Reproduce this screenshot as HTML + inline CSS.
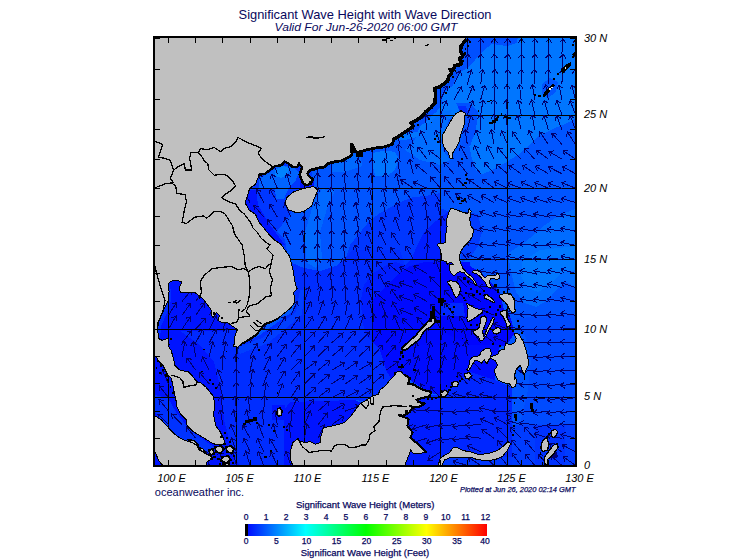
<!DOCTYPE html>
<html><head><meta charset="utf-8"><title>Significant Wave Height with Wave Direction</title>
<style>
html,body{margin:0;padding:0;background:#fff;}
body{width:755px;height:560px;position:relative;overflow:hidden;font-family:"Liberation Sans",sans-serif;}
#t div{font-family:"Liberation Sans",sans-serif;}
</style></head><body>
<svg width="755" height="560" viewBox="0 0 755 560" style="position:absolute;left:0;top:0">
<defs><clipPath id="mc"><rect x="154" y="37" width="422" height="429"/></clipPath>
<linearGradient id="cb" x1="0" x2="1" y1="0" y2="0"><stop offset="0.00%" stop-color="hsl(240,100%,50%)"/><stop offset="4.17%" stop-color="hsl(230,100%,50%)"/><stop offset="8.33%" stop-color="hsl(220,100%,50%)"/><stop offset="12.50%" stop-color="hsl(210,100%,50%)"/><stop offset="16.67%" stop-color="hsl(200,100%,50%)"/><stop offset="20.83%" stop-color="hsl(190,100%,50%)"/><stop offset="25.00%" stop-color="hsl(180,100%,50%)"/><stop offset="29.17%" stop-color="hsl(170,100%,50%)"/><stop offset="33.33%" stop-color="hsl(160,100%,50%)"/><stop offset="37.50%" stop-color="hsl(150,100%,50%)"/><stop offset="41.67%" stop-color="hsl(140,100%,50%)"/><stop offset="45.83%" stop-color="hsl(130,100%,50%)"/><stop offset="50.00%" stop-color="hsl(120,100%,50%)"/><stop offset="54.17%" stop-color="hsl(110,100%,50%)"/><stop offset="58.33%" stop-color="hsl(100,100%,50%)"/><stop offset="62.50%" stop-color="hsl(90,100%,50%)"/><stop offset="66.67%" stop-color="hsl(80,100%,50%)"/><stop offset="70.83%" stop-color="hsl(70,100%,50%)"/><stop offset="75.00%" stop-color="hsl(60,100%,50%)"/><stop offset="79.17%" stop-color="hsl(50,100%,50%)"/><stop offset="83.33%" stop-color="hsl(40,100%,50%)"/><stop offset="87.50%" stop-color="hsl(30,100%,50%)"/><stop offset="91.67%" stop-color="hsl(20,100%,50%)"/><stop offset="95.83%" stop-color="hsl(10,100%,50%)"/><stop offset="100.00%" stop-color="hsl(0,100%,50%)"/></linearGradient></defs>
<rect width="755" height="560" fill="#fff"/>
<g clip-path="url(#mc)" shape-rendering="crispEdges">
<rect x="153" y="36" width="424" height="431" fill="#0055ff"/>
<polygon points="380.0,36.0 577.0,36.0 577.0,118.0 564.3,124.3 551.4,129.6 538.6,136.0 530.0,144.6 519.3,154.3 514.2,157.1 497.1,167.8 482.1,174.3 475.7,170.0 471.4,157.1 468.2,140.0 470.0,125.0 462.0,112.0 450.0,118.0 442.0,128.0 436.0,138.0 425.0,135.0 405.0,140.0 380.0,140.0" fill="#0076ff"/>
<polygon points="405.0,150.0 425.0,128.0 440.0,112.0 452.0,110.0 446.0,128.0 441.0,140.0 443.0,150.0 450.0,160.0 440.0,165.0 420.0,160.0" fill="#006eff"/>
<polygon points="507.8,253.5 527.0,240.6 544.2,225.7 559.2,215.0 577.0,208.5 577.0,288.0 566.0,282.0 556.0,290.0 548.0,300.0 536.0,307.0 524.0,303.0 516.0,292.0 511.0,272.0" fill="#006cff"/>
<polygon points="522.0,262.0 540.0,250.0 577.0,246.0 577.0,270.0 562.0,272.0 550.0,285.0 538.0,292.0 528.0,288.0 521.0,276.0" fill="#0078ff"/>
<polygon points="516.0,318.0 577.0,315.0 577.0,425.0 520.0,425.0 528.0,390.0 531.0,360.0 525.0,335.0 518.0,330.0" fill="#004bff"/>
<polygon points="508.0,425.0 577.0,425.0 577.0,467.0 508.0,467.0" fill="#003cff"/>
<polygon points="373.5,152.8 384.2,150.7 394.9,151.8 399.2,159.3 394.9,170.0 386.4,176.4 375.7,176.4 372.4,165.7" fill="#0076ff"/>
<polygon points="331.8,161.4 360.7,152.0 362.0,166.0 345.0,172.0 331.0,172.0" fill="#0069ff"/>
<polygon points="322.1,189.3 335.0,190.3 326.4,210.7 320.0,232.0 322.1,260.0 316.0,268.0 306.0,262.0 305.0,232.0 311.4,210.7 316.0,198.0" fill="#0069ff"/>
<polygon points="440.0,193.0 427.0,195.7 410.0,197.8 397.0,204.2 380.0,212.8 369.2,221.4 358.5,234.2 350.0,245.0 346.0,258.0 336.0,266.0 320.0,271.0 304.0,268.0 290.0,262.0 280.0,240.0 262.0,222.0 250.0,210.0 244.0,200.0 252.0,186.0 262.0,186.0 262.0,215.0 285.0,240.0 295.0,300.0 300.0,330.0 449.5,330.0 449.5,212.0 440.0,208.0" fill="#0037ff"/>
<polygon points="449.5,210.7 435.6,221.4 422.8,234.2 416.3,247.0 412.0,258.0 405.0,265.0 395.0,262.0 385.0,266.0 372.0,274.0 364.0,285.0 361.0,300.0 362.0,320.0 366.0,335.0 375.0,345.0 449.5,345.0" fill="#001eff"/>
<polygon points="290.0,262.0 304.0,268.0 320.0,271.0 336.0,266.0 346.0,258.0 352.0,250.0 400.0,250.0 405.0,265.0 395.0,262.0 385.0,266.0 372.0,274.0 364.0,285.0 361.0,300.0 362.0,320.0 366.0,335.0 372.0,342.0 372.0,402.0 355.0,400.0 290.0,402.0 284.0,410.0 284.0,467.0 225.0,467.0 225.0,330.0 236.0,330.0 236.0,347.0 260.0,335.0 295.0,310.0 297.0,285.0" fill="#002dff"/>
<polygon points="449.0,262.0 440.0,262.0 425.0,262.0 410.0,266.0 398.0,274.0 388.0,284.0 373.0,300.0 372.0,320.0 373.0,345.0 373.0,360.0 378.0,380.0 384.0,390.0 400.0,372.0 470.0,372.0 470.0,262.0" fill="#000aff"/>
<polygon points="244.0,160.0 312.0,160.0 312.0,190.0 300.0,196.0 290.0,215.0 270.0,240.0 240.0,215.0" fill="#0037ff"/>
<polygon points="259.1,177.8 269.8,172.4 277.8,166.0 292.6,166.0 299.0,172.4 295.0,181.8 288.5,188.5 284.0,199.0 276.0,199.0 275.0,188.5 259.1,187.8" fill="#0064ff"/>
<polygon points="275.0,170.0 283.0,166.0 289.0,168.0 288.0,175.0 281.0,178.0 275.0,176.0" fill="#0082ff"/>
<polygon points="243.0,190.0 256.0,190.0 258.0,205.0 270.0,225.0 285.0,245.0 270.0,245.0 244.0,215.0" fill="#0014ff"/>
<polygon points="300.0,180.0 314.0,180.0 314.0,189.0 300.0,189.0" fill="#0014ff"/>
<polygon points="153.0,275.0 240.0,275.0 240.0,330.0 225.0,330.0 225.0,352.0 212.0,352.0 200.0,345.0 185.0,330.0 170.0,330.0 153.0,330.0" fill="#0014ff"/>
<polygon points="153.0,330.0 185.0,330.0 200.0,345.0 214.0,362.0 221.0,390.0 224.0,420.0 232.0,450.0 240.0,467.0 200.0,467.0 153.0,400.0" fill="#0014ff"/>
<polygon points="180.0,331.0 236.0,331.0 236.0,467.0 232.0,450.0 224.0,420.0 221.0,390.0 214.0,362.0 200.0,345.0" fill="#002aff"/>
<polygon points="153.0,278.0 170.0,278.0 171.0,300.0 167.0,313.0 161.0,326.0 160.0,340.0 153.0,340.0" fill="#002dff"/>
<polygon points="236.0,348.0 262.0,338.0 296.0,312.0 300.0,290.0 304.0,290.0 302.0,315.0 268.0,343.0 240.0,354.0" fill="#003eff"/>
<polygon points="153.0,355.0 175.0,355.0 180.0,415.0 220.0,445.0 235.0,467.0 153.0,467.0" fill="#0014ff"/>
<polygon points="155.0,395.0 168.0,398.0 176.0,412.0 190.0,430.0 215.0,448.0 205.0,455.0 180.0,440.0 160.0,420.0 155.0,412.0" fill="#0032ff"/>
<polygon points="284.0,410.0 290.0,402.0 355.0,400.0 362.0,403.0 372.0,396.0 372.0,467.0 284.0,467.0" fill="#0014ff"/>
<polygon points="272.0,405.0 285.0,405.0 285.0,420.0 272.0,420.0" fill="#0014ff"/>
<polygon points="372.0,342.0 380.0,350.0 386.0,370.0 392.0,380.0 384.0,392.0 372.0,398.0" fill="#002dff"/>
<polygon points="440.0,262.0 470.0,266.0 480.0,272.0 492.0,283.0 500.0,293.0 504.0,310.0 509.0,313.0 512.0,322.0 514.0,334.0 506.0,346.0 470.0,346.0 440.0,330.0" fill="#0005ff"/>
<polygon points="441.0,303.0 463.0,303.0 465.0,316.0 441.0,316.0" fill="#0028ff"/>
<polygon points="400.0,345.0 500.0,345.0 495.0,380.0 470.0,372.0 440.0,395.0 430.0,393.0 410.0,380.0 400.0,372.0" fill="#000cff"/>
<polygon points="405.0,397.0 440.0,395.0 470.0,372.0 500.0,382.0 512.0,388.0 512.0,467.0 405.0,467.0" fill="#0026ff"/>
<polygon points="405.0,397.0 440.0,397.0 440.0,467.0 405.0,467.0" fill="#001cff"/>
<polygon points="440.0,457.0 512.0,457.0 512.0,467.0 440.0,467.0" fill="#0037ff"/>
<polygon points="535.0,425.0 565.0,425.0 565.0,467.0 535.0,467.0" fill="#0032ff"/>
<polygon points="542.0,84.0 550.0,78.0 558.0,82.0 556.0,92.0 548.0,98.0 542.0,94.0" fill="#0055ff"/>
<polygon points="456.0,103.0 470.0,103.0 478.0,112.0 476.0,130.0 470.0,146.0 462.0,146.0 464.0,125.0 460.0,112.0" fill="#0050ff"/>
<polygon points="458.0,106.0 466.0,106.0 468.0,113.0 460.0,113.0" fill="#002dff"/>
<polygon points="466.0,212.0 478.0,214.0 482.0,232.0 478.0,246.0 470.0,258.0 462.0,262.0 460.0,250.0 470.0,238.0 472.0,228.0" fill="#003cff"/>
<polygon points="417.4,131.7 418.0,131.1 418.5,130.4 418.9,129.8 419.2,129.0 419.5,128.3 419.7,127.5 419.8,126.7 419.8,126.0 424.4,123.2 425.0,122.9 425.6,122.4 426.1,121.9 426.6,121.4 430.3,116.7 434.9,113.1 435.5,112.6 436.1,112.0 439.8,107.7 440.2,107.1 440.6,106.5 441.0,105.9 441.2,105.2 441.4,104.5 441.6,103.8 441.7,103.1 442.3,94.5 442.3,93.5 442.2,93.1 442.4,93.1 443.2,92.8 444.0,92.4 444.8,91.9 445.4,91.4 449.3,87.9 449.5,87.8 450.2,87.5 450.9,87.1 451.5,86.6 452.1,86.1 452.7,85.5 453.1,84.8 453.6,84.2 453.9,83.4 454.2,82.7 454.4,81.9 454.8,79.6 456.0,78.5 456.5,77.9 456.9,77.3 457.3,76.6 457.7,75.9 457.9,75.1 458.1,74.4 458.1,74.3 458.6,73.9 459.0,73.2 459.4,72.6 459.7,71.9 459.8,71.5 460.9,71.3 461.7,71.1 462.5,70.9 463.2,70.6 463.9,70.2 464.5,69.8 465.1,69.3 465.7,68.7 466.2,68.1 466.6,67.4 467.0,66.7 467.3,66.0 467.5,65.2 467.6,64.5 467.7,63.7 467.7,62.9 467.6,62.1 467.4,61.3 467.3,60.9 467.4,60.8 467.9,60.2 468.4,59.5 468.8,58.9 469.1,58.1 469.3,57.4 469.5,56.6 469.6,55.9 469.6,55.1 469.5,54.3 469.4,53.6 469.2,52.8 468.9,52.1 468.6,51.4 468.2,50.7 467.5,49.7 467.5,48.6 471.5,44.0 472.0,43.4 472.4,42.7 472.7,42.0 473.0,41.2 473.2,40.4 473.4,39.6 473.4,38.8 473.4,36.0 395.0,36.0 395.0,132.0 417.1,132.0 417.4,131.7" fill="#0050ff"/>
<polygon points="462,36 518,36 517,43 507,46 492,44 483,51 475,60 470,66 462,70" fill="#0050ff"/>
<line x1="168.5" y1="36" x2="168.5" y2="467" stroke="#000" stroke-width="1"/>
<line x1="236.5" y1="36" x2="236.5" y2="467" stroke="#000" stroke-width="1"/>
<line x1="304.5" y1="36" x2="304.5" y2="467" stroke="#000" stroke-width="1"/>
<line x1="372.5" y1="36" x2="372.5" y2="467" stroke="#000" stroke-width="1"/>
<line x1="440.5" y1="36" x2="440.5" y2="467" stroke="#000" stroke-width="1"/>
<line x1="507.5" y1="36" x2="507.5" y2="467" stroke="#000" stroke-width="1"/>
<line x1="575.5" y1="36" x2="575.5" y2="467" stroke="#000" stroke-width="1"/>
<line x1="153" y1="465.5" x2="577" y2="465.5" stroke="#000" stroke-width="1"/>
<line x1="153" y1="397.5" x2="577" y2="397.5" stroke="#000" stroke-width="1"/>
<line x1="153" y1="329.5" x2="577" y2="329.5" stroke="#000" stroke-width="1"/>
<line x1="153" y1="259.5" x2="577" y2="259.5" stroke="#000" stroke-width="1"/>
<line x1="153" y1="188.5" x2="577" y2="188.5" stroke="#000" stroke-width="1"/>
<line x1="153" y1="115.5" x2="577" y2="115.5" stroke="#000" stroke-width="1"/>
<line x1="153" y1="37.5" x2="577" y2="37.5" stroke="#000" stroke-width="1"/>
</g>
<g clip-path="url(#mc)" stroke="#00006e" stroke-width="1" fill="none" shape-rendering="crispEdges">
<path d="M168.5,424.7L157.9,414.1M162.9,414.7L157.9,414.1L158.5,419.0M168.5,411.1L159.0,399.6M163.8,400.6L159.0,399.6L159.1,404.6M168.5,397.5L159.2,385.8M164.0,386.9L159.2,385.8L159.2,390.8M168.5,383.9L162.4,370.2M166.8,372.5L162.4,370.2L161.2,375.0M168.5,329.0L176.1,316.1M176.8,321.0L176.1,316.1L171.5,317.9M168.5,315.2L176.5,302.5M177.0,307.5L176.5,302.5L171.8,304.2M182.1,424.7L171.7,413.9M176.6,414.6L171.7,413.9L172.2,418.9M182.1,356.5L184.7,341.7M187.0,346.1L184.7,341.7L181.0,345.1M182.1,342.8L191.3,330.9M191.3,335.9L191.3,330.9L186.5,332.2M182.1,329.0L190.6,316.7M190.9,321.7L190.6,316.7L185.9,318.2M182.1,315.2L190.8,303.0M191.0,308.0L190.8,303.0L186.0,304.4M182.1,301.3L191.7,289.8M191.5,294.8L191.7,289.8L186.8,290.9M195.7,438.3L186.4,426.6M191.3,427.7L186.4,426.6L186.4,431.6M195.7,370.2L187.0,358.0M191.8,359.4L187.0,358.0L186.8,363.0M195.7,356.5L193.0,341.7M196.7,345.1L193.0,341.7L190.7,346.2M195.7,342.8L202.8,329.5M203.6,334.5L202.8,329.5L198.2,331.6M195.7,329.0L205.9,318.0M205.5,322.9L205.9,318.0L200.9,318.8M195.7,315.2L204.4,303.0M204.6,308.0L204.4,303.0L199.6,304.4M195.7,301.3L204.3,289.1M204.6,294.1L204.3,289.1L199.5,290.5M209.3,465.5L205.2,451.1M209.3,454.0L205.2,451.1L203.3,455.7M209.3,383.9L199.5,372.5M204.4,373.5L199.5,372.5L199.7,377.5M209.3,370.2L202.4,356.9M206.9,359.0L202.4,356.9L201.5,361.8M209.3,356.5L212.7,341.9M214.8,346.4L212.7,341.9L208.8,345.0M209.3,342.8L216.2,329.5M217.1,334.4L216.2,329.5L211.7,331.5M209.3,329.0L216.4,315.8M217.3,320.7L216.4,315.8L211.9,317.8M209.3,315.2L216.3,301.9M217.2,306.9L216.3,301.9L211.8,304.0M222.9,465.5L219.5,450.9M223.4,454.0L219.5,450.9L217.4,455.4M222.9,424.7L220.2,410.0M224.0,413.3L220.2,410.0L217.9,414.4M222.9,411.1L220.7,396.3M224.3,399.7L220.7,396.3L218.2,400.6M222.9,397.5L219.4,382.9M223.3,386.0L219.4,382.9L217.4,387.5M222.9,383.9L217.6,369.9M221.8,372.4L217.6,369.9L216.1,374.6M222.9,370.2L222.9,355.2M226.0,359.2L222.9,355.2L219.9,359.1M222.9,356.5L225.9,341.8M228.2,346.3L225.9,341.8L222.1,345.1M222.9,342.8L227.3,328.4M229.1,333.1L227.3,328.4L223.2,331.3M222.9,329.0L228.4,315.0M229.8,319.8L228.4,315.0L224.1,317.6M236.5,465.5L232.8,451.0M236.7,454.0L232.8,451.0L230.8,455.6M236.5,451.9L231.4,437.8M235.6,440.5L231.4,437.8L229.8,442.6M236.5,438.3L230.7,424.5M235.1,426.9L230.7,424.5L229.4,429.3M236.5,424.7L233.5,410.0M237.3,413.3L233.5,410.0L231.3,414.5M236.5,411.1L235.1,396.2M238.5,399.8L235.1,396.2L232.4,400.4M236.5,397.5L236.4,382.5M239.5,386.4L236.4,382.5L233.3,386.5M236.5,383.9L236.2,368.9M239.3,372.7L236.2,368.9L233.2,372.9M236.5,370.2L235.6,355.2M238.9,359.0L235.6,355.2L232.8,359.3M236.5,356.5L239.3,341.8M241.6,346.2L239.3,341.8L235.5,345.1M250.1,465.5L245.7,451.1M249.8,454.0L245.7,451.1L243.9,455.8M250.1,451.9L243.9,438.3M248.3,440.6L243.9,438.3L242.7,443.1M250.1,438.3L242.8,425.3M247.4,427.2L242.8,425.3L242.0,430.2M250.1,424.7L246.6,410.2M250.5,413.3L246.6,410.2L244.5,414.7M250.1,411.1L247.8,396.3M251.4,399.7L247.8,396.3L245.3,400.7M250.1,397.5L251.4,382.6M254.1,386.8L251.4,382.6L248.0,386.2M250.1,383.9L252.8,369.1M255.1,373.5L252.8,369.1L249.0,372.4M250.1,370.2L253.7,355.6M255.7,360.2L253.7,355.6L249.7,358.7M250.1,356.5L257.3,343.3M258.1,348.3L257.3,343.3L252.7,345.3M250.1,342.8L256.2,329.1M257.4,333.9L256.2,329.1L251.8,331.4M250.1,202.6L242.9,189.5M247.5,191.4L242.9,189.5L242.1,194.4M263.7,465.5L258.3,451.5M262.6,454.1L258.3,451.5L256.8,456.3M263.7,451.9L257.5,438.2M262.0,440.6L257.5,438.2L256.3,443.1M263.7,438.3L258.7,424.2M262.9,426.9L258.7,424.2L257.1,428.9M263.7,424.7L262.0,409.8M265.5,413.4L262.0,409.8L259.4,414.1M263.7,411.1L264.8,396.2M267.6,400.3L264.8,396.2L261.4,399.9M263.7,397.5L266.2,382.7M268.6,387.1L266.2,382.7L262.5,386.1M263.7,383.9L268.8,369.8M270.4,374.5L268.8,369.8L264.6,372.4M263.7,370.2L270.1,356.6M271.2,361.5L270.1,356.6L265.6,358.9M263.7,356.5L271.2,343.5M271.9,348.5L271.2,343.5L266.5,345.4M263.7,342.8L271.3,329.8M271.9,334.8L271.3,329.8L266.6,331.7M263.7,329.0L270.7,315.7M271.6,320.6L270.7,315.7L266.1,317.8M263.7,216.9L253.9,205.5M258.8,206.5L253.9,205.5L254.2,210.5M263.7,202.6L256.8,189.3M261.4,191.4L256.8,189.3L255.9,194.2M263.7,188.2L258.4,174.2M262.7,176.8L258.4,174.2L256.9,178.9M277.3,465.5L270.9,451.9M275.4,454.2L270.9,451.9L269.8,456.8M277.3,451.9L269.9,438.9M274.5,440.8L269.9,438.9L269.2,443.8M277.3,438.3L273.3,423.9M277.3,426.9L273.3,423.9L271.4,428.5M277.3,424.7L274.9,409.9M278.6,413.3L274.9,409.9L272.5,414.3M277.3,397.5L282.6,383.5M284.1,388.2L282.6,383.5L278.3,386.1M277.3,383.9L285.0,371.0M285.6,375.9L285.0,371.0L280.3,372.8M277.3,370.2L284.9,357.3M285.6,362.3L284.9,357.3L280.3,359.1M277.3,356.5L286.3,344.5M286.4,349.5L286.3,344.5L281.5,345.8M277.3,342.8L285.9,330.5M286.2,335.5L285.9,330.5L281.1,332.0M277.3,329.0L285.4,316.4M285.9,321.4L285.4,316.4L280.7,318.0M277.3,231.2L267.5,219.8M272.4,220.8L267.5,219.8L267.7,224.8M277.3,216.9L269.6,204.1M274.3,205.9L269.6,204.1L269.0,209.0M277.3,202.6L270.2,189.4M274.8,191.4L270.2,189.4L269.4,194.3M277.3,188.2L271.5,174.4M275.9,176.8L271.5,174.4L270.2,179.2M277.3,173.7L271.9,159.7M276.2,162.3L271.9,159.7L270.5,164.5M290.9,465.5L286.0,451.3M290.2,454.0L286.0,451.3L284.4,456.1M290.9,438.3L288.8,423.5M292.4,426.9L288.8,423.5L286.3,427.8M290.9,424.7L291.4,409.8M294.4,413.8L291.4,409.8L288.2,413.6M290.9,411.1L297.4,397.6M298.4,402.5L297.4,397.6L292.9,399.8M290.9,397.5L299.4,385.2M299.7,390.1L299.4,385.2L294.6,386.7M290.9,383.9L299.6,371.7M299.8,376.7L299.6,371.7L294.8,373.1M290.9,370.2L301.3,359.4M300.8,364.3L301.3,359.4L296.3,360.1M290.9,356.5L300.4,344.9M300.3,349.9L300.4,344.9L295.5,346.0M290.9,342.8L300.8,331.5M300.5,336.5L300.8,331.5L295.9,332.4M290.9,329.0L299.6,316.8M299.8,321.8L299.6,316.8L294.8,318.2M290.9,315.2L297.3,301.6M298.4,306.5L297.3,301.6L292.8,303.9M290.9,245.3L284.2,231.9M288.7,234.1L284.2,231.9L283.2,236.8M290.9,231.2L284.8,217.5M289.2,219.8L284.8,217.5L283.6,222.3M290.9,216.9L284.8,203.2M289.2,205.6L284.8,203.2L283.6,208.1M290.9,188.2L286.7,173.8M290.8,176.7L286.7,173.8L284.9,178.5M290.9,173.7L286.5,159.4M290.6,162.2L286.5,159.4L284.7,164.1M304.5,438.3L306.8,423.5M309.3,427.9L306.8,423.5L303.2,426.9M304.5,424.7L310.4,410.9M311.7,415.8L310.4,410.9L306.0,413.4M304.5,411.1L314.0,399.5M313.9,404.5L314.0,399.5L309.1,400.6M304.5,397.5L315.8,387.6M314.8,392.5L315.8,387.6L310.8,387.9M304.5,383.9L315.1,373.2M314.5,378.2L315.1,373.2L310.1,373.9M304.5,370.2L316.6,361.3M315.2,366.1L316.6,361.3L311.6,361.1M304.5,356.5L314.9,345.7M314.4,350.7L314.9,345.7L310.0,346.4M304.5,342.8L315.0,332.0M314.4,337.0L315.0,332.0L310.0,332.7M304.5,329.0L312.8,316.5M313.2,321.5L312.8,316.5L308.1,318.1M304.5,315.2L310.8,301.6M312.0,306.5L310.8,301.6L306.4,303.9M304.5,301.3L309.3,287.1M310.9,291.8L309.3,287.1L305.1,289.9M304.5,287.4L305.1,272.4M308.0,276.5L305.1,272.4L301.8,276.3M304.5,273.5L304.5,258.5M307.6,262.4L304.5,258.5L301.4,262.4M304.5,259.4L303.3,244.5M306.7,248.2L303.3,244.5L300.6,248.6M304.5,245.3L302.4,230.5M306.0,234.0L302.4,230.5L299.9,234.8M304.5,231.2L303.8,216.2M307.1,220.0L303.8,216.2L300.9,220.3M304.5,216.9L302.4,202.1M306.0,205.6L302.4,202.1L299.9,206.4M318.1,438.3L324.6,424.8M325.6,429.7L324.6,424.8L320.1,427.0M318.1,424.7L327.3,412.9M327.3,417.9L327.3,412.9L322.5,414.1M318.1,411.1L329.2,401.1M328.4,406.0L329.2,401.1L324.2,401.4M318.1,397.5L329.9,388.3M328.7,393.2L329.9,388.3L324.9,388.3M318.1,383.9L329.5,374.1M328.5,379.0L329.5,374.1L324.5,374.4M318.1,370.2L329.8,360.8M328.6,365.7L329.8,360.8L324.8,360.9M318.1,356.5L328.8,346.0M328.1,350.9L328.8,346.0L323.8,346.5M318.1,342.8L328.2,331.7M327.8,336.7L328.2,331.7L323.3,332.5M318.1,329.0L325.8,316.1M326.4,321.1L325.8,316.1L321.1,317.9M318.1,315.2L323.2,301.1M324.7,305.8L323.2,301.1L319.0,303.7M318.1,301.3L320.8,286.6M323.1,291.0L320.8,286.6L317.1,289.9M318.1,287.4L317.8,272.4M321.0,276.3L317.8,272.4L314.8,276.4M318.1,273.5L317.6,258.5M320.8,262.3L317.6,258.5L314.6,262.5M318.1,259.4L317.1,244.5M320.4,248.2L317.1,244.5L314.3,248.6M318.1,245.3L317.1,230.4M320.4,234.1L317.1,230.4L314.3,234.5M318.1,231.2L316.8,216.2M320.2,219.9L316.8,216.2L314.0,220.4M318.1,216.9L316.1,202.1M319.7,205.6L316.1,202.1L313.6,206.4M318.1,202.6L316.5,187.7M320.0,191.3L316.5,187.7L313.8,192.0M318.1,188.2L317.1,173.2M320.4,177.0L317.1,173.2L314.3,177.4M318.1,173.7L316.5,158.8M320.0,162.4L316.5,158.8L313.9,163.0M331.7,424.7L343.9,416.1M342.5,420.8L343.9,416.1L338.9,415.8M331.7,411.1L345.0,404.1M342.9,408.7L345.0,404.1L340.0,403.3M331.7,397.5L345.2,391.0M343.0,395.5L345.2,391.0L340.3,390.0M331.7,383.9L344.3,375.7M342.7,380.5L344.3,375.7L339.3,375.3M331.7,370.2L344.6,362.5M342.8,367.2L344.6,362.5L339.6,361.9M331.7,356.5L343.1,346.8M342.1,351.7L343.1,346.8L338.1,347.0M331.7,342.8L343.1,333.0M342.1,337.9L343.1,333.0L338.1,333.2M331.7,329.0L339.0,315.9M339.8,320.9L339.0,315.9L334.4,317.9M331.7,315.2L335.6,300.7M337.5,305.3L335.6,300.7L331.6,303.7M331.7,301.3L333.0,286.4M335.7,290.6L333.0,286.4L329.6,290.1M331.7,287.4L330.4,272.5M333.8,276.1L330.4,272.5L327.7,276.7M331.7,273.5L330.4,258.5M333.8,262.2L330.4,258.5L327.6,262.7M331.7,259.4L330.7,244.5M334.1,248.2L330.7,244.5L327.9,248.6M331.7,245.3L331.6,230.3M334.7,234.3L331.6,230.3L328.6,234.3M331.7,231.2L330.6,216.2M334.0,219.9L330.6,216.2L327.8,220.4M331.7,216.9L329.6,202.1M333.2,205.6L329.6,202.1L327.1,206.4M331.7,202.6L330.7,187.6M334.1,191.4L330.7,187.6L327.9,191.8M331.7,188.2L331.6,173.2M334.7,177.1L331.6,173.2L328.6,177.2M331.7,173.7L331.0,158.7M334.2,162.5L331.0,158.7L328.1,162.8M345.3,411.1L359.3,405.9M356.7,410.1L359.3,405.9L354.6,404.4M345.3,397.5L358.6,390.6M356.5,395.2L358.6,390.6L353.7,389.7M345.3,383.9L357.6,375.3M356.1,380.1L357.6,375.3L352.6,375.0M345.3,370.2L357.6,361.6M356.1,366.4L357.6,361.6L352.6,361.3M345.3,356.5L356.2,346.2M355.4,351.1L356.2,346.2L351.2,346.7M345.3,342.8L355.2,331.5M354.9,336.5L355.2,331.5L350.3,332.4M345.3,329.0L351.2,315.2M352.5,320.1L351.2,315.2L346.9,317.6M345.3,315.2L347.7,300.4M350.1,304.8L347.7,300.4L344.0,303.8M345.3,301.3L345.2,286.3M348.3,290.3L345.2,286.3L342.1,290.3M345.3,287.4L343.4,272.5M347.0,276.1L343.4,272.5L340.9,276.8M345.3,273.5L342.9,258.7M346.5,262.0L342.9,258.7L340.5,263.0M345.3,259.4L343.1,244.6M346.7,248.0L343.1,244.6L340.6,249.0M345.3,245.3L343.8,230.4M347.3,234.0L343.8,230.4L341.1,234.6M345.3,231.2L343.2,216.3M346.8,219.8L343.2,216.3L340.7,220.6M345.3,216.9L342.7,202.2M346.4,205.5L342.7,202.2L340.3,206.6M345.3,202.6L343.5,187.7M347.0,191.3L343.5,187.7L340.9,192.0M345.3,188.2L344.4,173.2M347.7,177.0L344.4,173.2L341.6,177.4M345.3,173.7L343.9,158.8M347.3,162.4L343.9,158.8L341.2,163.0M358.9,397.5L371.4,389.2M369.8,394.0L371.4,389.2L366.4,388.9M358.9,383.9L371.2,375.2M369.7,380.0L371.2,375.2L366.2,375.0M358.9,370.2L371.8,362.6M370.0,367.2L371.8,362.6L366.8,361.9M358.9,356.5L369.9,346.3M369.1,351.2L369.9,346.3L364.9,346.7M358.9,342.8L369.3,332.0M368.8,337.0L369.3,332.0L364.4,332.7M358.9,329.0L363.7,314.8M365.4,319.5L363.7,314.8L359.5,317.5M358.9,315.2L360.1,300.2M362.8,304.4L360.1,300.2L356.7,303.9M358.9,301.3L357.1,286.4M360.6,290.0L357.1,286.4L354.5,290.7M358.9,287.4L356.2,272.7M359.9,276.0L356.2,272.7L353.9,277.1M358.9,273.5L355.1,258.9M359.1,262.0L355.1,258.9L353.1,263.5M358.9,259.4L355.1,244.9M359.1,248.0L355.1,244.9L353.1,249.5M358.9,245.3L357.3,230.4M360.8,234.0L357.3,230.4L354.7,234.7M358.9,231.2L356.1,216.4M359.9,219.7L356.1,216.4L353.8,220.9M358.9,216.9L355.5,202.3M359.4,205.5L355.5,202.3L353.4,206.9M358.9,202.6L356.0,187.9M359.8,191.2L356.0,187.9L353.8,192.4M358.9,188.2L357.0,173.3M360.5,176.8L357.0,173.3L354.4,177.6M358.9,173.7L357.6,158.8M361.0,162.4L357.6,158.8L354.9,163.0M358.9,159.1L357.3,144.2M360.7,147.8L357.3,144.2L354.6,148.5M372.5,383.9L384.0,374.2M383.0,379.1L384.0,374.2L379.0,374.4M372.5,370.2L384.4,361.0M383.1,365.9L384.4,361.0L379.4,361.0M372.5,356.5L382.5,345.3M382.1,350.3L382.5,345.3L377.5,346.2M372.5,342.8L380.7,330.2M381.1,335.2L380.7,330.2L376.0,331.8M372.5,329.0L373.6,314.0M376.4,318.2L373.6,314.0L370.3,317.7M372.5,315.2L369.3,300.5M373.2,303.7L369.3,300.5L367.1,305.0M372.5,301.3L367.4,287.2M371.6,289.9L367.4,287.2L365.9,292.0M372.5,287.4L367.9,273.2M372.0,276.0L367.9,273.2L366.2,277.8M372.5,273.5L365.9,260.0M370.4,262.2L365.9,260.0L364.8,264.9M372.5,259.4L366.3,245.8M370.7,248.1L366.3,245.8L365.1,250.6M372.5,245.3L366.8,231.4M371.2,233.9L366.8,231.4L365.5,236.3M372.5,231.2L367.9,216.9M372.1,219.7L367.9,216.9L366.2,221.6M372.5,216.9L368.5,202.5M372.5,205.5L368.5,202.5L366.6,207.1M372.5,202.6L369.5,187.9M373.3,191.2L369.5,187.9L367.3,192.4M372.5,188.2L371.0,173.3M374.5,176.9L371.0,173.3L368.3,177.5M372.5,173.7L371.9,158.7M375.1,162.5L371.9,158.7L369.0,162.8M372.5,159.1L371.5,144.1M374.9,147.9L371.5,144.1L368.7,148.3M386.1,370.2L398.3,361.5M396.9,366.3L398.3,361.5L393.3,361.3M386.1,356.5L396.0,345.3M395.7,350.2L396.0,345.3L391.1,346.2M386.1,342.8L395.5,331.1M395.4,336.1L395.5,331.1L390.6,332.2M386.1,329.0L384.6,314.1M388.0,317.7L384.6,314.1L381.9,318.3M386.1,315.2L380.4,301.3M384.8,303.8L380.4,301.3L379.1,306.1M386.1,301.3L374.5,291.8M379.5,292.0L374.5,291.8L375.6,296.7M386.1,287.4L379.0,274.2M383.6,276.2L379.0,274.2L378.1,279.2M386.1,273.5L376.6,261.8M381.5,262.9L376.6,261.8L376.7,266.8M386.1,259.4L378.1,246.7M382.8,248.4L378.1,246.7L377.6,251.7M386.1,245.3L379.7,231.8M384.2,234.0L379.7,231.8L378.6,236.6M386.1,231.2L381.0,217.1M385.3,219.7L381.0,217.1L379.5,221.8M386.1,216.9L382.9,202.3M386.7,205.5L382.9,202.3L380.7,206.8M386.1,202.6L383.1,187.9M386.9,191.2L383.1,187.9L380.9,192.4M386.1,188.2L385.3,173.2M388.6,177.0L385.3,173.2L382.4,177.3M386.1,173.7L384.6,158.8M388.1,162.4L384.6,158.8L381.9,163.0M386.1,159.1L385.9,144.1M389.0,148.0L385.9,144.1L382.9,148.1M399.7,370.2L410.5,359.8M409.8,364.7L410.5,359.8L405.5,360.3M399.7,356.5L407.5,343.7M408.1,348.6L407.5,343.7L402.8,345.5M399.7,342.8L404.6,328.6M406.2,333.3L404.6,328.6L400.4,331.3M399.7,329.0L394.0,315.2M398.3,317.6L394.0,315.2L392.6,320.0M399.7,315.2L392.6,302.0M397.2,304.0L392.6,302.0L391.7,306.9M399.7,301.3L391.1,289.0M395.9,290.5L391.1,289.0L390.9,294.0M399.7,287.4L385.5,282.7M390.2,281.0L385.5,282.7L388.2,286.8M399.7,273.5L388.2,263.8M393.2,264.0L388.2,263.8L389.3,268.7M399.7,259.4L390.5,247.6M395.4,248.8L390.5,247.6L390.5,252.6M399.7,245.3L391.5,232.8M396.2,234.4L391.5,232.8L391.1,237.8M399.7,231.2L395.0,216.9M399.2,219.7L395.0,216.9L393.3,221.6M399.7,216.9L396.3,202.3M400.2,205.5L396.3,202.3L394.2,206.9M399.7,202.6L394.3,188.6M398.6,191.2L394.3,188.6L392.8,193.4M399.7,188.2L396.5,173.5M400.4,176.7L396.5,173.5L394.4,178.0M399.7,173.7L397.6,158.9M401.2,162.3L397.6,158.9L395.1,163.2M399.7,159.1L398.4,144.2M401.8,147.8L398.4,144.2L395.7,148.4M399.7,144.4L397.0,129.7M400.8,133.0L397.0,129.7L394.7,134.1M413.3,465.5L406.4,478.8M405.5,473.9L406.4,478.8L410.9,476.7M413.3,438.3L401.1,447.1M402.5,442.3L401.1,447.1L406.1,447.3M413.3,424.7L399.1,429.5M401.8,425.3L399.1,429.5L403.8,431.1M413.3,411.1L399.8,404.5M404.7,403.5L399.8,404.5L402.0,409.0M413.3,383.9L418.3,369.7M419.9,374.5L418.3,369.7L414.1,372.4M413.3,370.2L418.5,356.1M420.0,360.9L418.5,356.1L414.3,358.8M413.3,356.5L416.1,341.8M418.4,346.2L416.1,341.8L412.3,345.1M413.3,329.0L402.3,318.8M407.3,319.2L402.3,318.8L403.1,323.7M413.3,315.2L399.5,309.4M404.3,308.1L399.5,309.4L401.9,313.7M413.3,301.3L399.2,296.1M404.0,294.6L399.2,296.1L401.9,300.4M413.3,287.4L399.1,282.5M403.9,280.9L399.1,282.5L401.8,286.7M413.3,273.5L399.8,267.0M404.7,265.9L399.8,267.0L402.0,271.5M413.3,259.4L406.0,246.3M410.6,248.3L406.0,246.3L405.2,251.3M413.3,245.3L410.5,230.6M414.3,233.9L410.5,230.6L408.2,235.0M413.3,231.2L409.8,216.6M413.7,219.7L409.8,216.6L407.7,221.1M413.3,216.9L408.8,202.6M412.9,205.5L408.8,202.6L407.0,207.3M413.3,202.6L404.6,190.4M409.4,191.8L404.6,190.4L404.4,195.4M413.3,188.2L400.8,179.9M405.8,179.5L400.8,179.9L402.4,184.6M413.3,173.7L409.4,159.2M413.4,162.2L409.4,159.2L407.4,163.8M413.3,159.1L409.8,144.5M413.7,147.6L409.8,144.5L407.7,149.1M413.3,144.4L408.8,130.1M412.9,132.9L408.8,130.1L407.0,134.8M413.3,129.6L409.9,115.0M413.8,118.1L409.9,115.0L407.8,119.5M426.9,465.5L419.3,478.5M418.7,473.5L419.3,478.5L424.0,476.6M426.9,438.3L412.5,442.6M415.4,438.5L412.5,442.6L417.2,444.4M426.9,424.7L412.5,429.0M415.4,424.9L412.5,429.0L417.2,430.8M426.9,411.1L412.0,409.6M416.2,406.9L412.0,409.6L415.6,413.1M426.9,397.5L420.7,383.8M425.2,386.2L420.7,383.8L419.6,388.7M426.9,383.9L427.9,368.9M430.7,373.0L427.9,368.9L424.6,372.6M426.9,370.2L430.2,355.6M432.3,360.1L430.2,355.6L426.3,358.7M426.9,356.5L430.6,342.0M432.6,346.6L430.6,342.0L426.7,345.0M426.9,342.8L426.1,327.8M429.4,331.6L426.1,327.8L423.2,331.9M426.9,329.0L417.0,317.7M421.9,318.7L417.0,317.7L417.3,322.7M426.9,315.2L414.2,307.2M419.2,306.7L414.2,307.2L415.9,311.9M426.9,301.3L413.7,294.3M418.6,293.4L413.7,294.3L415.7,298.9M426.9,287.4L413.5,280.7M418.4,279.7L413.5,280.7L415.6,285.2M426.9,273.5L413.8,266.1M418.8,265.3L413.8,266.1L415.8,270.7M426.9,259.4L427.2,244.4M430.2,248.4L427.2,244.4L424.1,248.3M426.9,245.3L427.8,230.4M430.6,234.5L427.8,230.4L424.5,234.1M426.9,231.2L427.9,216.2M430.7,220.4L427.9,216.2L424.6,219.9M426.9,216.9L424.9,202.1M428.5,205.6L424.9,202.1L422.4,206.4M426.9,202.6L420.6,189.0M425.1,191.3L420.6,189.0L419.5,193.8M426.9,188.2L413.2,182.0M418.1,180.8L413.2,182.0L415.6,186.4M426.9,173.7L415.3,164.2M420.3,164.3L415.3,164.2L416.4,169.1M426.9,159.1L418.0,147.1M422.8,148.4L418.0,147.1L417.8,152.1M426.9,144.4L420.7,130.8M425.1,133.1L420.7,130.8L419.5,135.6M426.9,129.6L425.0,114.7M428.6,118.3L425.0,114.7L422.5,119.0M426.9,114.7L428.8,99.8M431.4,104.1L428.8,99.8L425.2,103.3M440.5,451.9L427.9,460.1M429.6,455.4L427.9,460.1L432.9,460.5M440.5,438.3L426.3,443.1M429.0,438.9L426.3,443.1L431.0,444.8M440.5,424.7L425.8,427.8M429.0,424.0L425.8,427.8L430.3,430.0M440.5,411.1L425.6,409.8M429.8,407.1L425.6,409.8L429.2,413.2M440.5,397.5L430.1,386.7M435.1,387.4L430.1,386.7L430.6,391.7M440.5,383.9L439.8,368.9M443.0,372.7L439.8,368.9L436.9,373.0M440.5,370.2L444.6,355.8M446.5,360.4L444.6,355.8L440.5,358.7M440.5,356.5L445.6,342.4M447.1,347.1L445.6,342.4L441.3,345.1M440.5,342.8L443.5,328.1M445.7,332.5L443.5,328.1L439.7,331.3M440.5,329.0L434.1,315.4M438.6,317.7L434.1,315.4L433.0,320.3M440.5,315.2L430.2,304.3M435.1,305.1L430.2,304.3L430.6,309.3M440.5,301.3L429.2,291.4M434.2,291.7L429.2,291.4L430.2,296.3M440.5,287.4L429.8,276.9M434.8,277.5L429.8,276.9L430.5,281.8M440.5,273.5L435.4,259.4M439.6,262.0L435.4,259.4L433.8,264.1M440.5,259.4L442.4,244.5M444.9,248.8L442.4,244.5L438.8,248.1M440.5,231.2L442.0,216.3M444.7,220.5L442.0,216.3L438.5,219.9M440.5,216.9L436.9,202.4M440.9,205.5L436.9,202.4L434.9,206.9M440.5,202.6L432.2,190.1M437.0,191.7L432.2,190.1L431.8,195.1M440.5,188.2L430.7,176.9M435.6,177.8L430.7,176.9L430.9,181.9M440.5,173.7L430.7,162.4M435.6,163.3L430.7,162.4L430.9,167.3M440.5,159.1L428.6,150.0M433.6,150.0L428.6,150.0L429.8,154.9M440.5,144.4L435.6,130.2M439.8,133.0L435.6,130.2L434.0,135.0M440.5,129.6L444.0,115.0M446.1,119.6L444.0,115.0L440.1,118.1M440.5,114.7L446.3,100.9M447.6,105.7L446.3,100.9L441.9,103.3M440.5,99.6L447.1,86.1M448.1,91.0L447.1,86.1L442.6,88.3M453.9,465.5L439.0,467.5M442.5,463.9L439.0,467.5L443.4,470.0M453.9,438.3L439.0,440.4M442.5,436.8L439.0,440.4L443.4,442.9M453.9,424.7L439.0,426.4M442.6,422.9L439.0,426.4L443.3,429.0M453.9,411.1L438.9,411.3M442.8,408.1L438.9,411.3L442.9,414.3M453.9,397.5L440.5,390.7M445.4,389.8L440.5,390.7L442.6,395.3M453.9,370.2L456.1,355.4M458.6,359.7L456.1,355.4L452.5,358.8M453.9,356.5L457.7,342.0M459.7,346.6L457.7,342.0L453.8,345.0M453.9,342.8L455.0,327.8M457.8,332.0L455.0,327.8L451.7,331.5M453.9,329.0L448.4,315.1M452.7,317.6L448.4,315.1L447.0,319.9M453.9,315.2L445.0,303.2M449.8,304.5L445.0,303.2L444.8,308.1M453.9,301.3L444.1,290.0M449.0,290.9L444.1,290.0L444.4,295.0M453.9,202.6L444.8,190.7M449.7,191.9L444.8,190.7L444.8,195.7M453.9,188.2L444.2,176.7M449.1,177.8L444.2,176.7L444.4,181.7M453.9,173.7L443.9,162.5M448.9,163.4L443.9,162.5L444.2,167.5M453.9,159.1L444.4,147.5M449.3,148.6L444.4,147.5L444.5,152.5M453.9,99.6L461.5,86.7M462.2,91.7L461.5,86.7L456.9,88.6M453.9,84.5L460.6,71.0M461.6,75.9L460.6,71.0L456.1,73.2M453.9,69.2L458.5,54.9M460.2,59.6L458.5,54.9L454.3,57.7M467.3,465.5L453.0,461.1M457.6,459.3L453.0,461.1L455.8,465.2M467.3,438.3L452.4,439.6M456.0,436.2L452.4,439.6L456.5,442.3M467.3,424.7L452.4,426.8M455.9,423.2L452.4,426.8L456.8,429.3M467.3,411.1L452.3,412.3M456.0,408.9L452.3,412.3L456.5,415.0M467.3,397.5L452.9,393.4M457.5,391.5L452.9,393.4L455.8,397.4M467.3,383.9L457.5,372.5M462.4,373.5L457.5,372.5L457.8,377.5M467.3,356.5L465.4,341.6M468.9,345.1L465.4,341.6L462.8,345.9M467.3,342.8L463.4,328.3M467.4,331.3L463.4,328.3L461.4,332.9M467.3,329.0L460.0,315.9M464.6,317.8L460.0,315.9L459.2,320.8M467.3,301.3L457.1,290.4M462.0,291.2L457.1,290.4L457.5,295.4M467.3,287.4L457.1,276.4M462.1,277.2L457.1,276.4L457.5,281.4M467.3,259.4L457.7,247.9M462.6,249.0L457.7,247.9L457.9,252.9M467.3,245.3L456.9,234.5M461.9,235.2L456.9,234.5L457.4,239.5M467.3,202.6L455.6,193.2M460.6,193.3L455.6,193.2L456.8,198.1M467.3,188.2L456.2,178.1M461.2,178.5L456.2,178.1L457.1,183.0M467.3,173.7L458.0,161.9M462.9,163.1L458.0,161.9L458.1,166.9M467.3,159.1L460.5,145.7M465.0,147.9L460.5,145.7L459.6,150.6M467.3,144.4L465.1,129.6M468.7,133.0L465.1,129.6L462.6,133.9M467.3,129.6L471.1,115.1M473.1,119.7L471.1,115.1L467.1,118.1M467.3,114.7L472.9,100.8M474.3,105.6L472.9,100.8L468.6,103.3M467.3,99.6L473.0,85.7M474.3,90.6L473.0,85.7L468.6,88.2M467.3,84.5L471.3,70.0M473.2,74.6L471.3,70.0L467.3,73.0M467.3,69.2L468.2,54.2M471.0,58.3L468.2,54.2L464.9,57.9M467.3,53.7L467.5,38.7M470.6,42.7L467.5,38.7L464.4,42.6M467.3,38.1L467.4,23.1M470.4,27.1L467.4,23.1L464.3,27.0M480.7,465.5L468.2,457.2M473.2,456.8L468.2,457.2L469.8,461.9M480.7,451.9L467.1,445.5M472.0,444.4L467.1,445.5L469.4,450.0M480.7,438.3L465.8,436.3M470.2,433.8L465.8,436.3L469.3,439.8M480.7,424.7L465.7,425.3M469.5,422.1L465.7,425.3L469.8,428.2M480.7,411.1L465.7,410.4M469.8,407.5L465.7,410.4L469.5,413.7M480.7,397.5L466.3,393.4M470.9,391.5L466.3,393.4L469.2,397.5M480.7,383.9L468.1,375.8M473.0,375.3L468.1,375.8L469.7,380.5M480.7,370.2L470.7,359.0M475.7,359.9L470.7,359.0L471.1,364.0M480.7,342.8L472.0,330.5M476.8,332.0L472.0,330.5L471.8,335.5M480.7,315.2L469.2,305.6M474.2,305.8L469.2,305.6L470.2,310.5M480.7,301.3L467.9,293.6M472.8,293.0L467.9,293.6L469.6,298.2M480.7,287.4L467.4,280.5M472.3,279.6L467.4,280.5L469.5,285.1M480.7,259.4L466.6,254.2M471.4,252.7L466.6,254.2L469.3,258.5M480.7,245.3L466.0,242.1M470.6,240.0L466.0,242.1L469.2,246.0M480.7,231.2L466.5,226.3M471.2,224.7L466.5,226.3L469.2,230.5M480.7,216.9L466.3,212.9M470.9,211.0L466.3,212.9L469.2,216.9M480.7,202.6L467.6,195.3M472.5,194.5L467.6,195.3L469.5,199.9M480.7,188.2L468.5,179.5M473.5,179.3L468.5,179.5L469.9,184.3M480.7,173.7L471.2,162.1M476.1,163.2L471.2,162.1L471.3,167.1M480.7,159.1L474.3,145.5M478.8,147.8L474.3,145.5L473.2,150.4M480.7,144.4L476.2,130.1M480.3,132.9L476.2,130.1L474.4,134.8M480.7,129.6L480.5,114.6M483.6,118.5L480.5,114.6L477.5,118.6M480.7,114.7L483.1,99.9M485.5,104.2L483.1,99.9L479.4,103.3M480.7,99.6L484.8,85.2M486.7,89.9L484.8,85.2L480.8,88.2M480.7,84.5L482.4,69.6M485.0,73.8L482.4,69.6L478.9,73.1M480.7,69.2L480.8,54.2M483.8,58.1L480.8,54.2L477.7,58.1M480.7,53.7L480.8,38.7M483.9,42.7L480.8,38.7L477.7,42.6M480.7,38.1L480.7,23.1M483.8,27.0L480.7,23.1L477.7,27.0M494.1,465.5L483.4,455.0M488.4,455.6L483.4,455.0L484.0,460.0M494.1,438.3L481.9,429.6M486.9,429.4L481.9,429.6L483.3,434.4M494.1,424.7L480.3,418.8M485.1,417.6L480.3,418.8L482.7,423.2M494.1,411.1L479.5,407.8M484.0,405.7L479.5,407.8L482.6,411.7M494.1,397.5L479.5,394.2M484.0,392.1L479.5,394.2L482.6,398.1M494.1,383.9L480.0,378.7M484.8,377.2L480.0,378.7L482.7,382.9M494.1,342.8L482.2,333.7M487.2,333.6L482.2,333.7L483.4,338.5M494.1,315.2L480.4,309.2M485.2,307.9L480.4,309.2L482.7,313.6M494.1,287.4L479.1,286.5M483.2,283.7L479.1,286.5L482.9,289.8M494.1,273.5L479.3,270.8M483.8,268.5L479.3,270.8L482.7,274.5M494.1,259.4L479.2,257.4M483.6,254.9L479.2,257.4L482.7,261.0M494.1,245.3L479.1,244.7M483.2,241.8L479.1,244.7L482.9,247.9M494.1,231.2L479.4,228.2M483.9,226.0L479.4,228.2L482.6,232.0M494.1,216.9L480.0,211.8M484.8,210.3L480.0,211.8L482.7,216.1M494.1,202.6L481.1,195.2M486.0,194.5L481.1,195.2L483.0,199.8M494.1,188.2L482.1,179.2M487.1,179.1L482.1,179.2L483.4,184.0M494.1,173.7L484.3,162.4M489.2,163.3L484.3,162.4L484.5,167.4M494.1,159.1L487.2,145.8M491.7,147.9L487.2,145.8L486.3,150.7M494.1,144.4L491.3,129.7M495.0,133.0L491.3,129.7L489.0,134.1M494.1,129.6L494.0,114.6M497.1,118.5L494.0,114.6L491.0,118.6M494.1,114.7L494.1,99.7M497.1,103.6L494.1,99.7L491.0,103.6M494.1,99.6L495.2,84.7M498.0,88.8L495.2,84.7L491.8,88.4M494.1,84.5L494.9,69.5M497.8,73.6L494.9,69.5L491.6,73.2M494.1,69.2L494.4,54.2M497.4,58.2L494.4,54.2L491.3,58.0M494.1,53.7L494.3,38.7M497.3,42.7L494.3,38.7L491.2,42.6M494.1,38.1L494.2,23.1M497.3,27.1L494.2,23.1L491.1,27.0M507.5,465.5L498.0,453.9M502.8,455.0L498.0,453.9L498.1,458.9M507.5,451.9L497.6,440.7M502.5,441.6L497.6,440.7L497.9,445.7M507.5,438.3L496.8,427.8M501.8,428.4L496.8,427.8L497.5,432.8M507.5,424.7L494.4,417.4M499.3,416.7L494.4,417.4L496.3,422.1M507.5,411.1L492.5,411.6M496.4,408.4L492.5,411.6L496.5,414.5M507.5,397.5L492.5,397.4M496.5,394.4L492.5,397.4L496.4,400.5M507.5,342.8L493.6,337.1M498.4,335.8L493.6,337.1L496.1,341.5M507.5,329.0L493.5,323.6M498.3,322.2L493.5,323.6L496.1,327.9M507.5,287.4L492.5,287.9M496.3,284.7L492.5,287.9L496.5,290.8M507.5,273.5L492.5,272.7M496.6,269.9L492.5,272.7L496.3,276.0M507.5,259.4L492.7,256.8M497.2,254.5L492.7,256.8L496.1,260.5M507.5,245.3L492.6,243.3M496.9,240.8L492.6,243.3L496.1,246.9M507.5,231.2L492.9,227.6M497.5,225.6L492.9,227.6L496.0,231.6M507.5,216.9L493.1,212.9M497.7,211.0L493.1,212.9L496.0,216.9M507.5,202.6L493.7,196.7M498.5,195.5L493.7,196.7L496.1,201.1M507.5,188.2L494.1,181.4M499.0,180.4L494.1,181.4L496.2,185.9M507.5,173.7L496.0,164.1M501.0,164.3L496.0,164.1L497.0,169.0M507.5,159.1L497.8,147.7M502.7,148.7L497.8,147.7L498.0,152.7M507.5,144.4L501.6,130.6M506.0,133.0L501.6,130.6L500.3,135.5M507.5,129.6L505.8,114.7M509.3,118.3L505.8,114.7L503.2,119.0M507.5,114.7L506.1,99.7M509.5,103.4L506.1,99.7L503.4,104.0M507.5,99.6L506.9,84.7M510.1,88.5L506.9,84.7L504.0,88.7M507.5,84.5L507.7,69.5M510.7,73.4L507.7,69.5L504.6,73.4M507.5,69.2L507.9,54.2M510.9,58.2L507.9,54.2L504.7,58.0M507.5,53.7L507.8,38.7M510.8,42.7L507.8,38.7L504.6,42.6M507.5,38.1L507.6,23.1M510.6,27.1L507.6,23.1L504.5,27.0M521.1,465.5L512.1,453.5M517.0,454.8L512.1,453.5L512.0,458.5M521.1,451.9L511.6,440.3M516.5,441.4L511.6,440.3L511.7,445.3M521.1,438.3L510.5,427.7M515.5,428.3L510.5,427.7L511.1,432.7M521.1,424.7L506.8,420.2M511.5,418.5L506.8,420.2L509.6,424.3M521.1,411.1L506.4,414.1M509.7,410.3L506.4,414.1L510.9,416.3M521.1,397.5L506.2,399.2M509.8,395.7L506.2,399.2L510.5,401.8M521.1,383.9L506.1,383.4M510.1,380.5L506.1,383.4L510.0,386.6M521.1,370.2L506.1,369.3M510.3,366.4L506.1,369.3L509.9,372.6M521.1,329.0L506.3,326.6M510.7,324.2L506.3,326.6L509.7,330.3M521.1,315.2L506.3,312.7M510.7,310.3L506.3,312.7L509.7,316.4M521.1,301.3L506.2,300.1M510.3,297.3L506.2,300.1L509.8,303.5M521.1,287.4L506.1,287.1M510.1,284.1L506.1,287.1L510.0,290.2M521.1,273.5L506.2,271.8M510.5,269.2L506.2,271.8L509.8,275.3M521.1,259.4L506.4,256.2M511.0,254.1L506.4,256.2L509.6,260.1M521.1,245.3L506.5,242.0M511.0,239.8L506.5,242.0L509.6,245.8M521.1,231.2L506.5,227.9M511.0,225.8L506.5,227.9L509.6,231.8M521.1,216.9L506.3,214.3M510.8,211.9L506.3,214.3L509.7,218.0M521.1,202.6L506.8,198.0M511.5,196.3L506.8,198.0L509.6,202.2M521.1,188.2L507.0,183.0M511.8,181.5L507.0,183.0L509.7,187.2M521.1,173.7L508.8,165.2M513.7,164.9L508.8,165.2L510.2,170.0M521.1,159.1L510.5,148.5M515.5,149.1L510.5,148.5L511.1,153.4M521.1,144.4L512.7,132.0M517.5,133.5L512.7,132.0L512.4,137.0M521.1,129.6L517.4,115.1M521.4,118.1L517.4,115.1L515.4,119.6M521.1,114.7L518.1,100.0M521.9,103.2L518.1,100.0L515.9,104.4M521.1,99.6L519.5,84.7M523.0,88.3L519.5,84.7L516.9,89.0M521.1,84.5L521.2,69.5M524.3,73.4L521.2,69.5L518.1,73.4M521.1,69.2L521.6,54.2M524.6,58.2L521.6,54.2L518.4,58.0M521.1,53.7L521.5,38.7M524.4,42.7L521.5,38.7L518.3,42.6M521.1,38.1L521.1,23.1M524.2,27.0L521.1,23.1L518.0,27.0M534.7,465.5L525.1,454.0M530.0,455.0L525.1,454.0L525.2,459.0M534.7,451.9L525.0,440.5M529.9,441.5L525.0,440.5L525.2,445.5M534.7,438.3L524.4,427.4M529.3,428.2L524.4,427.4L524.9,432.4M534.7,424.7L519.8,422.9M524.1,420.3L519.8,422.9L523.3,426.4M534.7,411.1L519.8,412.4M523.4,409.0L519.8,412.4L523.9,415.1M534.7,397.5L519.7,398.5M523.5,395.2L519.7,398.5L523.9,401.3M534.7,383.9L519.7,384.8M523.5,381.5L519.7,384.8L523.9,387.7M534.7,370.2L519.8,371.7M523.4,368.2L519.8,371.7L524.0,374.4M534.7,356.5L519.7,357.1M523.5,353.9L519.7,357.1L523.8,360.1M534.7,342.8L519.7,342.5M523.7,339.5L519.7,342.5L523.6,345.7M534.7,329.0L519.7,329.0M523.6,325.9L519.7,329.0L523.6,332.1M534.7,315.2L519.7,314.4M523.8,311.5L519.7,314.4L523.5,317.7M534.7,301.3L519.9,299.1M524.2,296.6L519.9,299.1L523.3,302.7M534.7,287.4L519.9,284.8M524.3,282.5L519.9,284.8L523.3,288.5M534.7,273.5L520.0,270.6M524.4,268.3L520.0,270.6L523.3,274.4M534.7,259.4L519.8,257.5M524.1,255.0L519.8,257.5L523.3,261.1M534.7,245.3L519.7,244.2M523.9,241.4L519.7,244.2L523.4,247.5M534.7,231.2L519.9,228.5M524.4,226.2L519.9,228.5L523.3,232.2M534.7,216.9L520.1,213.5M524.6,211.4L520.1,213.5L523.2,217.4M534.7,202.6L520.6,197.6M525.3,196.0L520.6,197.6L523.2,201.8M534.7,188.2L521.0,182.1M525.8,180.9L521.0,182.1L523.3,186.5M534.7,173.7L522.4,165.1M527.4,164.9L522.4,165.1L523.9,169.9M534.7,159.1L524.3,148.3M529.2,149.0L524.3,148.3L524.8,153.3M534.7,144.4L528.9,130.6M533.2,133.0L528.9,130.6L527.6,135.4M534.7,129.6L532.0,114.9M535.7,118.2L532.0,114.9L529.7,119.3M534.7,114.7L531.6,100.0M535.4,103.2L531.6,100.0L529.4,104.5M534.7,99.6L532.4,84.8M536.0,88.2L532.4,84.8L529.9,89.2M534.7,84.5L534.3,69.5M537.5,73.3L534.3,69.5L531.4,73.5M534.7,69.2L535.0,54.2M538.0,58.2L535.0,54.2L531.8,58.0M534.7,53.7L534.9,38.7M537.9,42.7L534.9,38.7L531.8,42.6M534.7,38.1L534.6,23.1M537.7,27.0L534.6,23.1L531.5,27.1M548.3,465.5L538.2,454.4M543.1,455.2L538.2,454.4L538.6,459.4M548.3,438.3L534.2,433.3M538.9,431.8L534.2,433.3L536.8,437.6M548.3,424.7L533.6,427.9M536.8,424.0L533.6,427.9L538.1,430.1M548.3,411.1L533.4,413.1M536.9,409.5L533.4,413.1L537.7,415.6M548.3,397.5L533.5,399.7M536.9,396.1L533.5,399.7L537.8,402.2M548.3,383.9L533.4,385.7M536.9,382.2L533.4,385.7L537.7,388.3M548.3,370.2L533.4,372.3M536.9,368.7L533.4,372.3L537.8,374.8M548.3,356.5L533.4,358.0M537.0,354.5L533.4,358.0L537.6,360.7M548.3,342.8L533.3,343.1M537.2,339.9L533.3,343.1L537.3,346.1M548.3,329.0L533.3,329.5M537.1,326.3L533.3,329.5L537.3,332.5M548.3,315.2L533.3,315.2M537.2,312.1L533.3,315.2L537.2,318.3M548.3,301.3L533.4,299.3M537.8,296.8L533.4,299.3L536.9,302.9M548.3,287.4L533.7,284.0M538.2,281.9L533.7,284.0L536.8,287.9M548.3,273.5L533.6,270.7M538.0,268.4L533.6,270.7L536.9,274.4M548.3,259.4L533.3,258.6M537.4,255.8L533.3,258.6L537.1,261.9M548.3,245.3L533.3,245.3M537.3,242.2L533.3,245.3L537.2,248.4M548.3,231.2L533.4,229.8M537.6,227.1L533.4,229.8L537.0,233.2M548.3,216.9L533.6,214.0M538.0,211.8L533.6,214.0L536.9,217.8M548.3,202.6L534.0,198.0M538.7,196.3L534.0,198.0L536.8,202.1M548.3,188.2L534.5,182.4M539.3,181.1L534.5,182.4L536.9,186.8M548.3,173.7L535.4,166.1M540.3,165.5L535.4,166.1L537.2,170.8M548.3,159.1L536.2,150.2M541.2,150.1L536.2,150.2L537.6,155.0M548.3,144.4L539.9,132.0M544.7,133.5L539.9,132.0L539.6,137.0M548.3,129.6L544.0,115.2M548.1,118.1L544.0,115.2L542.2,119.9M548.3,114.7L544.2,100.3M548.2,103.2L544.2,100.3L542.3,104.9M548.3,99.6L545.6,84.9M549.3,88.2L545.6,84.9L543.3,89.3M548.3,84.5L548.2,69.5M551.3,73.4L548.2,69.5L545.1,73.4M548.3,69.2L549.1,54.2M552.0,58.3L549.1,54.2L545.8,57.9M548.3,53.7L548.9,38.7M551.8,42.8L548.9,38.7L545.6,42.5M548.3,38.1L548.2,23.1M551.3,27.0L548.2,23.1L545.2,27.1M561.9,465.5L550.7,455.5M555.7,455.8L550.7,455.5L551.6,460.4M561.9,451.9L549.6,443.4M554.5,443.1L549.6,443.4L551.0,448.2M561.9,438.3L547.2,435.4M551.7,433.1L547.2,435.4L550.4,439.2M561.9,424.7L547.0,426.2M550.6,422.8L547.0,426.2L551.2,428.9M561.9,411.1L547.1,413.4M550.5,409.7L547.1,413.4L551.4,415.8M561.9,397.5L547.2,400.6M550.4,396.8L547.2,400.6L551.7,402.8M561.9,383.9L547.1,386.2M550.5,382.6L547.1,386.2L551.5,388.7M561.9,370.2L547.0,371.9M550.6,368.4L547.0,371.9L551.3,374.5M561.9,356.5L546.9,357.5M550.7,354.2L546.9,357.5L551.1,360.3M561.9,342.8L546.9,342.8M550.8,339.7L546.9,342.8L550.9,345.9M561.9,329.0L546.9,329.2M550.8,326.1L546.9,329.2L550.9,332.2M561.9,315.2L546.9,314.7M550.9,311.7L546.9,314.7L550.7,317.9M561.9,301.3L547.1,298.9M551.5,296.5L547.1,298.9L550.5,302.5M561.9,287.4L547.4,283.6M552.0,281.6L547.4,283.6L550.4,287.6M561.9,273.5L547.3,270.2M551.8,268.1L547.3,270.2L550.4,274.1M561.9,259.4L547.0,257.8M551.2,255.2L547.0,257.8L550.6,261.3M561.9,245.3L546.9,244.4M551.0,241.6L546.9,244.4L550.7,247.7M561.9,231.2L547.1,229.0M551.4,226.5L547.1,229.0L550.5,232.6M561.9,216.9L547.1,214.8M551.4,212.3L547.1,214.8L550.5,218.4M561.9,202.6L547.5,198.6M552.1,196.7L547.5,198.6L550.4,202.6M561.9,188.2L547.8,183.0M552.6,181.5L547.8,183.0L550.5,187.3M561.9,173.7L548.5,166.9M553.4,166.0L548.5,166.9L550.6,171.5M561.9,159.1L549.0,151.5M553.9,150.9L549.0,151.5L550.8,156.2M561.9,144.4L551.9,133.2M556.8,134.1L551.9,133.2L552.2,138.2M561.9,129.6L556.6,115.6M560.9,118.2L556.6,115.6L555.1,120.4M561.9,114.7L556.7,100.6M561.0,103.2L556.7,100.6L555.2,105.4M561.9,99.6L558.9,84.9M562.7,88.2L558.9,84.9L556.7,89.4M561.9,84.5L562.5,69.5M565.4,73.5L562.5,69.5L559.3,73.3M561.9,69.2L563.2,54.2M565.9,58.4L563.2,54.2L559.8,57.9M561.9,53.7L562.9,38.7M565.7,42.9L562.9,38.7L559.6,42.5M561.9,38.1L562.0,23.1M565.0,27.1L562.0,23.1L558.9,27.0M575.5,465.5L563.4,456.7M568.4,456.5L563.4,456.7L564.8,461.5M575.5,451.9L562.3,444.8M567.2,443.9L562.3,444.8L564.3,449.4M575.5,438.3L561.0,434.4M565.6,432.5L561.0,434.4L564.0,438.4M575.5,424.7L560.5,423.9M564.6,421.1L560.5,423.9L564.3,427.2M575.5,411.1L560.6,412.6M564.2,409.1L560.6,412.6L564.8,415.3M575.5,397.5L560.7,400.0M564.1,396.3L560.7,400.0L565.1,402.4M575.5,383.9L560.6,385.7M564.1,382.2L560.6,385.7L564.9,388.3M575.5,370.2L560.5,371.0M564.3,367.7L560.5,371.0L564.6,373.8M575.5,356.5L560.5,356.4M564.5,353.3L560.5,356.4L564.4,359.5M575.5,342.8L560.5,341.9M564.6,339.0L560.5,341.9L564.3,345.2M575.5,329.0L560.5,327.8M564.7,325.1L560.5,327.8L564.2,331.2M575.5,315.2L560.6,313.2M565.0,310.6L560.6,313.2L564.1,316.7M575.5,301.3L560.9,297.8M565.5,295.7L560.9,297.8L564.0,301.7M575.5,287.4L561.2,282.9M565.9,281.2L561.2,282.9L564.0,287.0M575.5,273.5L561.1,269.2M565.8,267.4L561.1,269.2L564.0,273.3M575.5,259.4L560.9,256.0M565.4,253.9L560.9,256.0L564.0,259.9M575.5,245.3L560.8,242.4M565.3,240.1L560.8,242.4L564.0,246.2M575.5,231.2L560.8,228.2M565.3,226.0L560.8,228.2L564.0,232.0M575.5,216.9L560.8,214.1M565.2,211.8L560.8,214.1L564.1,217.9M575.5,202.6L561.2,198.2M565.9,196.4L561.2,198.2L564.0,202.3M575.5,188.2L561.6,182.6M566.4,181.2L561.6,182.6L564.1,186.9M575.5,173.7L562.3,166.5M567.3,165.7L562.3,166.5L564.3,171.1M575.5,159.1L563.1,150.6M568.1,150.3L563.1,150.6L564.6,155.4M575.5,144.4L567.2,131.9M571.9,133.5L567.2,131.9L566.8,136.9M575.5,129.6L570.2,115.6M574.5,118.2L570.2,115.6L568.7,120.3M575.5,114.7L570.2,100.7M574.5,103.3L570.2,100.7L568.7,105.4M575.5,99.6L571.9,85.1M575.9,88.2L571.9,85.1L569.9,89.6M575.5,84.5L575.3,69.5M578.5,73.4L575.3,69.5L572.3,73.4M575.5,69.2L576.4,54.2M579.2,58.3L576.4,54.2L573.1,57.9M575.5,53.7L576.1,38.7M579.0,42.8L576.1,38.7L572.9,42.5M575.5,38.1L575.3,23.1M578.4,27.0L575.3,23.1L572.2,27.1"/>
</g>
<g clip-path="url(#mc)" shape-rendering="crispEdges">
<polygon points="551,452 556,450 558,457 553,459" fill="#000078"/>
<polyline points="465.4,38.8 459.7,45.4 459.3,52.0 461.6,55.3 458.3,58.2 459.7,63.4 454.0,64.3 452.2,69.0 448.4,68.1 450.3,72.8 447.4,75.7 446.5,80.4 445.0,81.0 440.1,85.4 433.2,87.5 434.3,93.9 433.7,102.5 430.0,106.8 424.6,111.0 420.3,116.4 415.0,119.6 409.1,122.8 411.8,126.0 405.3,130.3 398.9,134.6 393.0,138.4" fill="none" stroke="#000" stroke-width="6.1" stroke-linejoin="round" stroke-linecap="butt"/>
<polyline points="393.0,138.4 391.8,143.4 384.3,146.1 375.7,147.1 367.1,148.7 362.8,150.3 356.4,151.4 353.2,143.9 350.5,143.4 351.1,154.6 345.7,157.8 341.4,160.0 336.1,160.5 327.5,162.7 323.9,166.1 318.5,167.1 313.2,168.7 309.4,169.3 306.8,173.0" fill="none" stroke="#000" stroke-width="4.6" stroke-linejoin="round" stroke-linecap="butt"/>
<polyline points="306.8,173.0 308.4,176.8 312.1,179.5 310.5,183.2 306.8,184.3 303.5,182.7 300.3,174.6 303.0,167.1 298.7,162.3 297.1,166.1 292.8,166.1 288.6,162.9 284.3,160.7 281.1,164.5 274.6,165.5 269.3,169.8 265.0,173.0 258.6,174.1" fill="none" stroke="#000" stroke-width="3.8" stroke-linejoin="round" stroke-linecap="butt"/>
<polyline points="404.0,375.2 409.3,378.5 407.3,384.4 413.3,385.1 418.6,388.4 425.2,391.1 430.5,392.4 429.2,395.7 421.2,397.7 415.3,399.7 419.9,403.0 423.9,403.6 418.6,406.3 412.0,407.0 408.8,412.4" fill="none" stroke="#000" stroke-width="3.4" stroke-linejoin="round" stroke-linecap="butt"/>
<polyline points="408.8,412.4 400.0,416.4 408.1,419.1 406.8,425.8 412.1,432.5 409.5,437.8 416.1,443.2 421.5,448.5 426.2,452.6" fill="none" stroke="#000" stroke-width="3.0" stroke-linejoin="round" stroke-linecap="butt"/>
<polyline points="278.6,317.7 271.5,321.3 264.3,323.7 260.7,328.5 255.9,334.5 248.7,339.3 242.7,342.9" fill="none" stroke="#000" stroke-width="3.0" stroke-linejoin="round" stroke-linecap="butt"/>
<polygon points="464.5,374.0 469.0,372.5 471.5,375.5 469.0,379.0 465.5,378.5" fill="#c0c0c0" stroke="#000" stroke-width="1.2" stroke-linejoin="round"/>
<polygon points="451.5,383.0 456.0,381.0 459.0,383.0 457.0,386.5 452.5,386.5" fill="#c0c0c0" stroke="#000" stroke-width="1.2" stroke-linejoin="round"/>
<polygon points="440.5,393.0 445.0,390.5 448.5,392.0 446.0,396.0 441.5,396.5" fill="#c0c0c0" stroke="#000" stroke-width="1.2" stroke-linejoin="round"/>
<polygon points="215.0,447.0 221.0,446.0 224.0,449.0 221.0,453.0 216.0,452.0" fill="#c0c0c0" stroke="#000" stroke-width="1.8" stroke-linejoin="round"/>
<polygon points="226.0,447.0 231.0,446.0 234.0,449.0 232.0,453.0 227.0,452.0" fill="#c0c0c0" stroke="#000" stroke-width="1.8" stroke-linejoin="round"/>
<polygon points="209.0,450.0 213.0,449.0 214.0,454.0 210.0,455.0" fill="#c0c0c0" stroke="#000" stroke-width="1.8" stroke-linejoin="round"/>
<polygon points="222.0,457.0 228.0,456.0 231.0,460.0 226.0,463.0 221.0,461.0" fill="#c0c0c0" stroke="#000" stroke-width="1.8" stroke-linejoin="round"/>
<polygon points="224.0,464.0 229.0,463.0 230.0,467.0 224.0,467.0" fill="#c0c0c0" stroke="#000" stroke-width="1.8" stroke-linejoin="round"/>
<polygon points="188.0,439.5 194.0,440.5 199.0,445.0 193.0,444.5" fill="#c0c0c0" stroke="#000" stroke-width="1.3" stroke-linejoin="round"/>
<polygon points="198.0,447.0 203.0,449.0 206.0,453.0 201.0,451.0" fill="#c0c0c0" stroke="#000" stroke-width="1.3" stroke-linejoin="round"/>
<polygon points="472.1,271.1 477.5,270.0 480.7,272.7 482.8,275.9 485.0,278.1 487.1,275.9 491.4,275.4 495.7,275.9 496.8,273.2 498.9,273.8 499.4,278.1 496.8,279.7 493.5,278.1 490.3,279.1 489.3,282.3 491.4,286.6 490.3,288.2 487.1,286.6 485.0,282.3 482.3,279.1 479.6,275.9 476.4,273.8 473.2,272.7" fill="#c0c0c0" stroke="#000" stroke-width="1" stroke-linejoin="round"/>
<polygon points="153.0,36.0 465.4,36.0 465.4,38.8 459.7,45.4 459.3,52.0 461.6,55.3 458.3,58.2 459.7,63.4 454.0,64.3 452.2,69.0 448.4,68.1 450.3,72.8 447.4,75.7 446.5,80.4 445.0,81.0 440.1,85.4 433.2,87.5 434.3,93.9 433.7,102.5 430.0,106.8 424.6,111.0 420.3,116.4 415.0,119.6 409.1,122.8 411.8,126.0 405.3,130.3 398.9,134.6 393.0,138.4 391.8,143.4 384.3,146.1 375.7,147.1 367.1,148.7 362.8,150.3 356.4,151.4 353.2,143.9 350.5,143.4 351.1,154.6 345.7,157.8 341.4,160.0 336.1,160.5 327.5,162.7 323.9,166.1 318.5,167.1 313.2,168.7 309.4,169.3 306.8,173.0 308.4,176.8 312.1,179.5 310.5,183.2 306.8,184.3 303.5,182.7 300.3,174.6 303.0,167.1 298.7,162.3 297.1,166.1 292.8,166.1 288.6,162.9 284.3,160.7 281.1,164.5 274.6,165.5 269.3,169.8 265.0,173.0 258.6,174.1 258.0,177.8 255.4,184.3 249.7,188.4 247.4,195.6 245.0,202.7 249.1,209.9 255.7,214.7 258.7,221.9 264.7,229.1 269.5,235.1 275.2,240.5 281.1,244.3 285.3,250.7 289.6,256.1 291.2,262.5 293.4,271.1 294.4,279.6 296.1,286.1 297.1,288.7 293.4,292.5 295.0,299.4 294.8,302.2 290.6,308.2 284.6,313.0 278.6,317.7 271.5,321.3 264.3,323.7 260.7,328.5 255.9,334.5 248.7,339.3 242.7,342.9 238.0,347.1 233.8,346.5 235.0,335.7 237.4,329.7 232.6,326.2 226.6,322.1 221.8,322.7 218.2,320.3 219.4,315.5 216.4,312.5 213.4,317.3 211.0,315.5 211.0,309.5 207.4,304.7 203.9,299.9 199.1,295.7 194.3,292.1 185.9,292.1 180.5,292.7 179.3,288.0 181.7,282.0 176.3,280.2 170.3,281.4 168.0,283.8 169.1,291.5 168.0,301.1 164.4,308.3 160.8,316.7 157.8,322.7 157.8,330.0 158.4,338.4 162.0,340.2 168.0,338.4 168.0,345.6 171.0,350.3 173.3,357.5 175.1,365.9 179.9,370.1 188.3,371.9 191.9,375.5 196.7,381.5 201.5,383.3 206.2,387.4 211.0,393.4 212.9,395.7 215.0,404.3 213.6,414.3 215.7,425.7 220.0,431.4 223.6,438.6 225.0,443.6 218.6,445.0 212.9,443.6 207.1,440.0 200.0,435.7 192.9,431.4 187.1,425.7 186.4,420.0 180.7,414.3 177.1,407.1 175.7,398.6 173.9,391.0 172.7,383.9 171.0,377.9 168.0,375.5 165.6,370.7 163.2,365.9 159.6,362.3 156.6,357.5 153.0,355.0" fill="#c0c0c0" stroke="#000" stroke-width="1" stroke-linejoin="round"/>
<polygon points="153.0,414.0 155.7,416.4 161.4,420.0 168.6,427.9 175.0,434.3 180.7,438.6 187.9,441.4 192.9,442.9 197.1,445.7 199.3,450.0 204.3,452.9 210.0,455.7 212.9,458.6 207.1,461.4 205.7,467.0 164.3,467.0 158.6,460.7 155.7,452.9 153.0,448.0" fill="#c0c0c0" stroke="#000" stroke-width="1" stroke-linejoin="round"/>
<polygon points="313.8,186.6 318.0,190.2 314.4,198.0 311.4,206.3 304.2,211.1 297.0,212.9 288.6,209.9 285.6,203.9 286.2,198.0 293.4,192.0 301.8,189.0 309.0,187.2" fill="#c0c0c0" stroke="#000" stroke-width="1" stroke-linejoin="round"/>
<polygon points="461.1,110.7 465.3,113.4 464.3,118.2 464.8,122.5 462.7,128.9 460.5,135.3 458.9,142.8 455.7,148.2 453.0,152.5 452.0,158.9 449.8,157.8 448.2,152.5 443.9,147.1 442.3,141.8 442.9,134.3 446.1,128.9 449.3,123.6 453.0,117.1 456.2,113.4" fill="#c0c0c0" stroke="#000" stroke-width="1" stroke-linejoin="round"/>
<polygon points="451.1,208.0 457.1,210.0 463.8,212.7 467.8,213.4 469.2,208.7 471.2,211.4 469.8,218.7 470.5,225.4 473.9,230.1 471.9,237.5 467.8,242.8 463.8,246.9 460.5,251.5 459.1,257.6 460.3,262.0 463.0,268.4 467.8,273.8 472.1,277.0 475.9,282.3 476.9,285.0 475.3,285.0 473.2,281.3 470.0,278.1 465.7,274.9 464.1,272.7 459.3,271.6 456.1,273.8 453.9,275.9 450.7,272.7 449.1,268.4 449.5,265.0 453.8,264.3 450.4,262.2 447.1,264.3 446.4,261.6 441.7,260.2 441.1,253.5 439.7,248.2 437.0,244.2 441.1,243.5 445.1,242.8 445.7,234.8 447.1,226.8 446.4,220.1 448.4,213.4" fill="#c0c0c0" stroke="#000" stroke-width="1" stroke-linejoin="round"/>
<polygon points="447.0,281.8 450.7,280.7 456.1,281.8 459.8,285.6 460.3,290.9 458.7,295.2 456.1,297.9 453.9,294.1 451.8,288.8 449.6,285.0" fill="#c0c0c0" stroke="#000" stroke-width="1.1" stroke-linejoin="round"/>
<polygon points="499.4,295.2 504.3,293.6 510.7,294.1 513.9,298.4 514.4,303.1 514.8,309.1 515.7,311.7 512.3,312.6 509.3,309.1 507.6,305.7 505.4,302.3 502.4,300.1 500.0,297.3" fill="#c0c0c0" stroke="#000" stroke-width="1.2" stroke-linejoin="round"/>
<polygon points="500.3,312.1 502.8,310.9 506.7,310.0 507.1,313.4 506.7,316.9 508.8,321.1 510.6,323.7 509.7,326.3 507.1,327.1 506.3,323.7 504.6,319.4 502.8,316.0 500.7,314.7" fill="#c0c0c0" stroke="#000" stroke-width="1.2" stroke-linejoin="round"/>
<polygon points="466.4,303.1 469.4,304.9 473.7,307.4 478.0,309.1 482.3,310.0 481.9,313.0 478.4,315.1 474.6,318.1 471.1,320.3 468.1,321.6 466.9,318.6 467.3,313.4 468.1,308.3" fill="#c0c0c0" stroke="#000" stroke-width="1.1" stroke-linejoin="round"/>
<polygon points="481.4,316.4 484.9,316.0 486.6,318.6 486.1,322.0 484.4,326.3 482.7,330.6 483.1,334.8 484.4,338.3 482.3,340.8 480.1,340.0 478.4,337.0 475.4,334.8 473.3,332.7 474.1,330.6 477.1,329.7 479.3,327.1 480.1,322.9 480.6,319.0" fill="#c0c0c0" stroke="#000" stroke-width="1.1" stroke-linejoin="round"/>
<polygon points="493.0,317.3 494.3,318.1 493.4,322.0 491.3,326.3 489.1,329.7 487.0,334.0 485.7,336.6 484.9,335.7 485.7,332.3 487.4,328.0 489.6,323.7 491.3,319.9" fill="#c0c0c0" stroke="#000" stroke-width="1.1" stroke-linejoin="round"/>
<polygon points="492.6,330.6 497.7,327.1 500.7,329.3 500.3,332.3 496.8,334.0 493.4,333.1" fill="#c0c0c0" stroke="#000" stroke-width="1.2" stroke-linejoin="round"/>
<polygon points="483.9,295.2 487.1,294.7 490.3,297.3 493.5,299.5 494.6,302.7 491.4,301.6 488.2,299.5 485.0,298.4" fill="#c0c0c0" stroke="#000" stroke-width="1.2" stroke-linejoin="round"/>
<polygon points="515.0,333.0 519.0,334.4 523.0,341.1 525.7,349.1 527.7,357.1 529.0,363.8 525.7,370.5 524.3,375.9 522.3,370.5 520.3,365.2 516.3,369.2 514.3,375.9 517.0,381.2 515.0,386.6 512.3,387.9 509.6,383.9 502.9,382.6 497.6,379.9 495.6,374.5 494.2,370.5 497.6,365.2 495.6,361.1 491.5,358.5 489.5,358.5 486.9,363.8 484.2,359.8 481.5,363.2 478.8,361.1 474.8,360.5 472.1,365.2 468.8,370.5 466.8,369.8 468.8,366.5 469.5,361.1 472.1,357.1 479.5,355.8 481.5,351.1 486.2,348.4 490.2,349.1 491.5,353.1 490.2,357.1 497.6,354.5 499.6,350.4 504.3,349.1 505.6,343.7 511.0,344.4 515.0,342.4 516.3,338.4 514.3,334.4" fill="#c0c0c0" stroke="#000" stroke-width="1" stroke-linejoin="round"/>
<polygon points="433.3,317.3 430.1,319.2 430.1,319.3 430.0,319.3 429.9,319.4 425.6,324.4 420.7,329.4 420.6,329.4 415.6,335.7 410.7,339.9 410.7,339.9 405.7,344.3 405.7,344.4 401.9,348.2 401.8,348.2 401.8,348.3 401.7,348.4 401.7,348.4 401.6,348.5 401.6,348.6 401.6,348.7 401.6,348.8 401.6,348.9 401.6,349.0 401.6,349.0 401.7,349.1 401.7,349.2 401.7,349.3 401.8,349.4 401.8,349.4 401.9,349.5 402.0,349.5 402.0,349.6 402.1,349.6 402.2,349.7 402.3,349.7 404.8,350.3 404.9,350.3 405.0,350.3 405.1,350.3 405.2,350.3 405.2,350.3 405.3,350.2 405.4,350.2 405.5,350.2 405.6,350.1 409.4,347.0 414.3,343.2 419.3,339.5 419.4,339.5 419.5,339.4 419.5,339.3 419.6,339.3 419.6,339.2 422.1,334.3 425.6,329.5 430.4,327.1 430.5,327.1 430.6,327.0 430.6,326.9 435.0,322.5 435.1,322.5 435.1,322.4 435.2,322.3 435.2,322.3 435.3,322.2 435.3,322.1 435.3,322.0 435.3,321.9 435.3,321.8 435.3,321.8 434.7,318.0 434.7,317.9 434.6,317.8 434.6,317.7 434.6,317.6 434.5,317.6 434.5,317.5 434.4,317.4 434.3,317.4 434.3,317.3 434.2,317.3 434.1,317.3 434.0,317.2 433.9,317.2 433.8,317.2 433.8,317.2 433.7,317.2 433.6,317.2 433.5,317.3 433.4,317.3 433.3,317.3" fill="#c0c0c0" stroke="#000" stroke-width="1.6" stroke-linejoin="round"/>
<polygon points="293.6,467.0 290.3,459.6 291.0,449.0 292.9,442.4 298.2,438.4 299.6,441.0 304.9,442.4 310.2,441.7 315.5,444.4 320.1,442.4 320.8,437.1 323.4,427.8 330.0,426.5 338.0,424.5 344.6,422.5 349.9,417.2 353.9,411.9 357.8,406.6 360.3,403.6 368.2,399.0 372.2,396.4 378.2,394.4 380.2,389.7 385.5,385.8 389.4,380.5 394.7,375.2 397.4,371.2 401.4,371.9 404.0,375.2 409.3,378.5 407.3,384.4 413.3,385.1 418.6,388.4 425.2,391.1 430.5,392.4 429.2,395.7 421.2,397.7 415.3,399.7 419.9,403.0 423.9,403.6 418.6,406.3 412.0,407.0 408.8,412.4 400.0,416.4 408.1,419.1 406.8,425.8 412.1,432.5 409.5,437.8 416.1,443.2 421.5,448.5 426.2,452.6 413.5,453.9 410.8,449.9 408.8,455.2 406.1,461.9 404.8,467.0" fill="#c0c0c0" stroke="#000" stroke-width="1" stroke-linejoin="round"/>
<polygon points="438.2,467.0 439.6,459.3 444.3,455.2 449.6,452.6 453.0,447.9 457.6,447.9 463.0,450.6 471.0,451.9 478.7,454.7 488.9,453.3 497.7,450.4 503.5,446.0 507.9,441.6 510.8,443.8 507.9,449.6 502.8,456.2 494.8,459.8 484.6,460.6 475.8,459.1 471.0,457.2 460.3,457.9 449.6,457.9 444.3,459.9 441.6,467.0" fill="#c0c0c0" stroke="#000" stroke-width="1" stroke-linejoin="round"/>
<polygon points="543.5,439.5 547.0,437.8 549.0,444.5 547.5,450.0 543.0,451.5 540.8,448.5 541.5,443.0" fill="#c0c0c0" stroke="#000" stroke-width="1.3" stroke-linejoin="round"/>
<polygon points="557.4,443.8 558.1,447.4 554.5,452.5 551.6,456.2 547.9,459.1 547.2,464.2 545.0,464.2 544.3,457.6 547.2,453.3 551.6,447.4 554.5,444.5" fill="#c0c0c0" stroke="#000" stroke-width="1.3" stroke-linejoin="round"/>
<polygon points="552.0,430.5 555.5,429.5 557.5,431.5 556.5,435.5 553.5,437.5 551.5,436.0 551.0,433.0" fill="#c0c0c0" stroke="#000" stroke-width="1.3" stroke-linejoin="round"/>
<polygon points="277.5,409.0 280.0,408.0 282.0,411.0 281.5,415.0 279.0,416.5 277.0,414.0" fill="#c0c0c0" stroke="#000" stroke-width="1.5" stroke-linejoin="round"/>
<polyline points="274.2,167.8 266.7,162.5 261.3,158.2 258.1,152.8 261.3,148.6 254.9,145.4 246.4,142.1 241.0,139.0 238.0,137.5 235.7,142.1 231.4,146.4 223.9,148.6 220.7,151.8 214.2,147.5 207.8,149.6 200.3,148.6 198.2,152.8 190.7,152.8 189.6,158.2 191.8,170.0 185.3,170.0 184.3,163.6 177.8,166.8 173.6,170.0 170.3,160.3 163.9,158.2 158.6,157.1 160.7,150.7 162.8,144.3 156.4,142.1 154.0,141.0" fill="none" stroke="#000" stroke-width="1.25" stroke-linejoin="round"/>
<polyline points="173.6,170.0 170.3,178.5 173.6,182.8 165.0,183.9 159.6,186.0 154.0,188.2" fill="none" stroke="#000" stroke-width="1.25" stroke-linejoin="round"/>
<polyline points="170.3,181.8 175.7,186.0 176.8,193.5 185.3,194.6 186.4,202.1 184.3,210.7 182.1,222.4 186.4,223.5 195.0,217.1 203.5,216.0 206.7,218.2 214.2,211.7 220.7,211.7 225.0,213.9 232.4,225.7 234.6,234.2 242.1,244.9 244.2,255.6 245.3,266.4 248.5,271.8" fill="none" stroke="#000" stroke-width="1.25" stroke-linejoin="round"/>
<polyline points="198.2,152.8 201.4,156.1 204.6,161.4 207.8,163.6 208.9,170.0 214.2,175.3 221.7,174.3 227.1,175.3 232.4,180.7 235.7,186.0 231.4,190.3 225.0,194.6 221.7,197.8 227.1,201.0 235.7,204.2 239.9,210.7 244.2,213.9 250.6,222.4 252.8,227.8 257.1,232.1 261.3,238.5 266.7,242.8 270.3,244.8 266.6,248.6 273.0,255.0 270.9,264.6" fill="none" stroke="#000" stroke-width="1.25" stroke-linejoin="round"/>
<polyline points="199.3,298.5 201.4,292.1 200.3,281.4 204.6,275.0 212.1,268.6 220.7,267.5 231.4,266.4 237.8,269.6 244.2,268.6 248.5,271.8" fill="none" stroke="#000" stroke-width="1.25" stroke-linejoin="round"/>
<polyline points="248.5,271.8 252.8,268.6 259.2,266.4 265.6,268.6 268.8,264.3 270.9,264.6" fill="none" stroke="#000" stroke-width="1.25" stroke-linejoin="round"/>
<polyline points="270.9,264.6 269.3,272.1 272.5,279.6 270.3,288.2 271.4,295.7 266.0,296.8 262.0,300.0 258.0,303.5 252.8,305.0 248.5,306.5 246.4,311.4 250.0,316.0 243.0,317.0 238.5,318.0 237.0,322.0 231.0,323.5" fill="none" stroke="#000" stroke-width="1.25" stroke-linejoin="round"/>
<polyline points="248.5,271.8 249.5,280.0 250.0,288.0 249.0,297.0 247.5,304.0 245.0,309.0 241.0,312.0" fill="none" stroke="#000" stroke-width="1.25" stroke-linejoin="round"/>
<polyline points="241.0,300.0 237.0,303.0 233.0,302.0" fill="none" stroke="#000" stroke-width="1.25" stroke-linejoin="round"/>
<polyline points="239.0,309.0 238.5,318.0" fill="none" stroke="#000" stroke-width="1.25" stroke-linejoin="round"/>
<polyline points="236.7,300.0 234.0,303.0" fill="none" stroke="#000" stroke-width="1.25" stroke-linejoin="round"/>
<polyline points="228.0,303.0 231.0,302.0" fill="none" stroke="#000" stroke-width="1.25" stroke-linejoin="round"/>
<polyline points="154.0,262.0 156.4,272.8 160.7,287.8 165.0,300.7 162.8,311.4 158.6,322.1 157.8,326.0" fill="none" stroke="#000" stroke-width="1.25" stroke-linejoin="round"/>
<polyline points="171.5,374.9 179.9,377.9 182.9,381.5 183.5,387.4 190.7,385.6 195.5,385.0 197.9,381.5" fill="none" stroke="#000" stroke-width="1.25" stroke-linejoin="round"/>
<polyline points="298.2,439.7 302.2,446.4 308.8,452.3 315.5,451.7 322.1,450.3 331.4,451.0 334.0,446.4 338.0,444.4 344.6,444.4 349.9,447.7 356.5,447.0 361.8,445.0 365.8,445.0 369.8,438.4 369.8,434.4 375.0,430.5 373.7,426.5 379.0,421.2 380.4,411.9 382.7,407.0 393.4,405.7 406.8,406.4" fill="none" stroke="#000" stroke-width="1.25" stroke-linejoin="round"/>
<polyline points="361.2,403.3 366.0,408.5 369.0,404.0 367.5,399.5" fill="none" stroke="#000" stroke-width="1.25" stroke-linejoin="round"/>
<polyline points="370.0,398.0 371.0,404.0 373.5,404.0 373.5,397.0" fill="none" stroke="#000" stroke-width="1.25" stroke-linejoin="round"/>
<polyline points="250.0,325.0 256.0,331.0 259.0,330.0" fill="none" stroke="#000" stroke-width="1.25" stroke-linejoin="round"/>
<polyline points="253.0,322.0 259.0,327.0 262.0,326.0" fill="none" stroke="#000" stroke-width="1.25" stroke-linejoin="round"/>
<polyline points="256.0,320.0 262.0,324.0" fill="none" stroke="#000" stroke-width="1.25" stroke-linejoin="round"/>
<rect x="356" y="151" width="7" height="6" fill="#000"/>
<rect x="351" y="143" width="2" height="8" fill="#000"/>
<rect x="353" y="148" width="3" height="5" fill="#000"/>
<rect x="538" y="95" width="3" height="2" fill="#000"/>
<rect x="534" y="94" width="2" height="2" fill="#000"/>
<rect x="553" y="78" width="2" height="2" fill="#000"/>
<rect x="557" y="73" width="2" height="2" fill="#000"/>
<rect x="572" y="56" width="2" height="2" fill="#000"/>
<rect x="574" y="40" width="2" height="2" fill="#000"/>
<rect x="572" y="44" width="2" height="2" fill="#000"/>
<rect x="489" y="122" width="4" height="2" fill="#000"/>
<rect x="492" y="120" width="4" height="3" fill="#000"/>
<rect x="495" y="118" width="3" height="3" fill="#000"/>
<rect x="497" y="116" width="2" height="2" fill="#000"/>
<rect x="487" y="101" width="3" height="1" fill="#000"/>
<rect x="490" y="100" width="2" height="1" fill="#000"/>
<rect x="504" y="116" width="4" height="2" fill="#000"/>
<rect x="507" y="117" width="4" height="2" fill="#000"/>
<rect x="501" y="113" width="1" height="3" fill="#000"/>
<rect x="478" y="110" width="1" height="2" fill="#000"/>
<rect x="461" y="158" width="2" height="2" fill="#000"/>
<rect x="465" y="174" width="2" height="2" fill="#000"/>
<rect x="466" y="178" width="2" height="2" fill="#000"/>
<rect x="464" y="182" width="3" height="2" fill="#000"/>
<rect x="462" y="184" width="2" height="2" fill="#000"/>
<rect x="457" y="197" width="3" height="3" fill="#000"/>
<rect x="461" y="200" width="3" height="2" fill="#000"/>
<rect x="464" y="198" width="2" height="3" fill="#000"/>
<rect x="459" y="203" width="3" height="1" fill="#000"/>
<rect x="436" y="135" width="2" height="2" fill="#000"/>
<rect x="434" y="138" width="2" height="2" fill="#000"/>
<rect x="437" y="141" width="2" height="2" fill="#000"/>
<rect x="306" y="137" width="3" height="1" fill="#000"/>
<rect x="308" y="136" width="5" height="2" fill="#000"/>
<rect x="313" y="137" width="6" height="2" fill="#000"/>
<rect x="319" y="137" width="5" height="1" fill="#000"/>
<rect x="323" y="136" width="2" height="1" fill="#000"/>
<rect x="382" y="39" width="4" height="2" fill="#000"/>
<rect x="386" y="38" width="4" height="1" fill="#000"/>
<rect x="390" y="40" width="3" height="1" fill="#000"/>
<rect x="394" y="38" width="2" height="1" fill="#000"/>
<rect x="425" y="45" width="3" height="1" fill="#000"/>
<rect x="427" y="44" width="2" height="1" fill="#000"/>
<rect x="430" y="311" width="5" height="8" fill="#000"/>
<rect x="432" y="306" width="3" height="6" fill="#000"/>
<rect x="438" y="298" width="6" height="5" fill="#000"/>
<rect x="440" y="303" width="3" height="3" fill="#000"/>
<rect x="436" y="320" width="5" height="3" fill="#000"/>
<rect x="429" y="318" width="3" height="4" fill="#000"/>
<rect x="449" y="308" width="2" height="2" fill="#000"/>
<rect x="451" y="311" width="3" height="2" fill="#000"/>
<rect x="453" y="306" width="2" height="2" fill="#000"/>
<rect x="452" y="316" width="2" height="2" fill="#000"/>
<rect x="400" y="351" width="3" height="3" fill="#000"/>
<rect x="402" y="355" width="2" height="3" fill="#000"/>
<rect x="399" y="358" width="2" height="2" fill="#000"/>
<rect x="398" y="366" width="6" height="2" fill="#000"/>
<rect x="401" y="364" width="2" height="2" fill="#000"/>
<rect x="413" y="369" width="3" height="2" fill="#000"/>
<rect x="394" y="372" width="2" height="3" fill="#000"/>
<rect x="461" y="378" width="2" height="2" fill="#000"/>
<rect x="459" y="380" width="2" height="2" fill="#000"/>
<rect x="450" y="386" width="2" height="2" fill="#000"/>
<rect x="448" y="389" width="3" height="2" fill="#000"/>
<rect x="451" y="383" width="2" height="2" fill="#000"/>
<rect x="438" y="396" width="2" height="2" fill="#000"/>
<rect x="435" y="397" width="2" height="2" fill="#000"/>
<rect x="431" y="398" width="2" height="2" fill="#000"/>
<rect x="427" y="397" width="2" height="3" fill="#000"/>
<rect x="446" y="385" width="1" height="2" fill="#000"/>
<rect x="456" y="376" width="2" height="1" fill="#000"/>
<rect x="440" y="390" width="2" height="2" fill="#000"/>
<rect x="245" y="420" width="4" height="3" fill="#000"/>
<rect x="249" y="419" width="4" height="3" fill="#000"/>
<rect x="253" y="417" width="4" height="4" fill="#000"/>
<rect x="243" y="423" width="3" height="2" fill="#000"/>
<rect x="256" y="422" width="2" height="2" fill="#000"/>
<rect x="268" y="424" width="2" height="2" fill="#000"/>
<rect x="273" y="430" width="2" height="2" fill="#000"/>
<rect x="283" y="426" width="2" height="2" fill="#000"/>
<rect x="286" y="429" width="2" height="2" fill="#000"/>
<rect x="270" y="450" width="2" height="2" fill="#000"/>
<rect x="264" y="456" width="3" height="2" fill="#000"/>
<rect x="259" y="447" width="1" height="1" fill="#000"/>
<rect x="277" y="392" width="1" height="2" fill="#000"/>
<rect x="220" y="436" width="2" height="2" fill="#000"/>
<rect x="224" y="432" width="2" height="2" fill="#000"/>
<rect x="226" y="437" width="2" height="2" fill="#000"/>
<rect x="229" y="441" width="2" height="2" fill="#000"/>
<rect x="232" y="447" width="2" height="2" fill="#000"/>
<rect x="213" y="456" width="3" height="2" fill="#000"/>
<rect x="217" y="458" width="3" height="2" fill="#000"/>
<rect x="233" y="455" width="2" height="2" fill="#000"/>
<rect x="219" y="463" width="2" height="2" fill="#000"/>
<rect x="232" y="462" width="2" height="2" fill="#000"/>
<rect x="223" y="443" width="3" height="2" fill="#000"/>
<rect x="210" y="458" width="3" height="2" fill="#000"/>
<rect x="157" y="360" width="2" height="2" fill="#000"/>
<rect x="160" y="364" width="2" height="3" fill="#000"/>
<rect x="162" y="369" width="2" height="2" fill="#000"/>
<rect x="165" y="374" width="3" height="3" fill="#000"/>
<rect x="167" y="379" width="2" height="2" fill="#000"/>
<rect x="159" y="372" width="2" height="2" fill="#000"/>
<rect x="156" y="367" width="1" height="2" fill="#000"/>
<rect x="170" y="386" width="1" height="2" fill="#000"/>
<rect x="172" y="392" width="2" height="2" fill="#000"/>
<rect x="170" y="338" width="2" height="2" fill="#000"/>
<rect x="169" y="344" width="1" height="1" fill="#000"/>
<rect x="201" y="371" width="2" height="1" fill="#000"/>
<rect x="209" y="379" width="2" height="2" fill="#000"/>
<rect x="212" y="383" width="2" height="2" fill="#000"/>
<rect x="215" y="387" width="2" height="2" fill="#000"/>
<rect x="203" y="349" width="2" height="1" fill="#000"/>
<rect x="258" y="349" width="2" height="2" fill="#000"/>
<rect x="226" y="351" width="1" height="1" fill="#000"/>
<rect x="213" y="312" width="2" height="3" fill="#000"/>
<rect x="221" y="317" width="2" height="2" fill="#000"/>
<rect x="514" y="414" width="3" height="4" fill="#000"/>
<rect x="515" y="418" width="2" height="3" fill="#000"/>
<rect x="513" y="425" width="2" height="2" fill="#000"/>
<rect x="513" y="430" width="2" height="1" fill="#000"/>
<rect x="512" y="434" width="2" height="2" fill="#000"/>
<rect x="530" y="403" width="3" height="6" fill="#000"/>
<rect x="531" y="409" width="3" height="3" fill="#000"/>
<rect x="535" y="399" width="2" height="2" fill="#000"/>
<rect x="514" y="402" width="1" height="2" fill="#000"/>
<rect x="463" y="277" width="3" height="3" fill="#000"/>
<rect x="467" y="281" width="2" height="2" fill="#000"/>
<rect x="470" y="288" width="2" height="2" fill="#000"/>
<rect x="465" y="292" width="2" height="2" fill="#000"/>
<rect x="463" y="297" width="2" height="2" fill="#000"/>
<rect x="472" y="294" width="3" height="2" fill="#000"/>
<rect x="476" y="290" width="2" height="3" fill="#000"/>
<rect x="479" y="293" width="2" height="2" fill="#000"/>
<rect x="483" y="290" width="2" height="2" fill="#000"/>
<rect x="494" y="284" width="3" height="3" fill="#000"/>
<rect x="497" y="289" width="2" height="4" fill="#000"/>
<rect x="499" y="305" width="2" height="3" fill="#000"/>
<rect x="497" y="309" width="2" height="2" fill="#000"/>
<rect x="495" y="313" width="2" height="3" fill="#000"/>
<rect x="489" y="306" width="2" height="2" fill="#000"/>
<rect x="486" y="311" width="2" height="2" fill="#000"/>
<rect x="476" y="324" width="2" height="2" fill="#000"/>
<rect x="470" y="324" width="2" height="2" fill="#000"/>
<rect x="464" y="300" width="2" height="1" fill="#000"/>
<rect x="503" y="291" width="2" height="2" fill="#000"/>
<rect x="509" y="327" width="2" height="3" fill="#000"/>
<rect x="512" y="330" width="2" height="2" fill="#000"/>
<rect x="517" y="320" width="2" height="2" fill="#000"/>
<rect x="518" y="325" width="2" height="3" fill="#000"/>
<rect x="521" y="332" width="2" height="2" fill="#000"/>
<rect x="444" y="300" width="2" height="2" fill="#000"/>
<rect x="446" y="305" width="2" height="2" fill="#000"/>
<rect x="450" y="309" width="1" height="2" fill="#000"/>
<rect x="443" y="313" width="2" height="2" fill="#000"/>
<rect x="466" y="340" width="2" height="1" fill="#000"/>
<rect x="462" y="338" width="1" height="1" fill="#000"/>
<rect x="492" y="343" width="2" height="2" fill="#000"/>
<rect x="499" y="345" width="2" height="2" fill="#000"/>
<rect x="524" y="376" width="1" height="4" fill="#000"/>
<rect x="514" y="377" width="1" height="3" fill="#000"/>
<rect x="398" y="414" width="4" height="2" fill="#000"/>
<rect x="402" y="416" width="3" height="2" fill="#000"/>
<rect x="405" y="410" width="3" height="3" fill="#000"/>
<rect x="409" y="405" width="3" height="2" fill="#000"/>
<rect x="412" y="395" width="2" height="2" fill="#000"/>
<rect x="417" y="401" width="2" height="2" fill="#000"/>
<rect x="540" y="452" width="1" height="3" fill="#000"/>
<rect x="541" y="457" width="1" height="2" fill="#000"/>
<rect x="542" y="462" width="1" height="3" fill="#000"/>
<rect x="546" y="436" width="2" height="2" fill="#000"/>
<rect x="548" y="433" width="2" height="2" fill="#000"/>
<rect x="428" y="118" width="2" height="2" fill="#000"/>
<rect x="431" y="122" width="1" height="1" fill="#000"/>
<rect x="417" y="124" width="2" height="2" fill="#000"/>
<rect x="402" y="136" width="2" height="2" fill="#000"/>
<rect x="445" y="92" width="2" height="2" fill="#000"/>
<rect x="449" y="86" width="1" height="2" fill="#000"/>
<rect x="452" y="76" width="2" height="2" fill="#000"/>
<rect x="455" y="70" width="1" height="2" fill="#000"/>
<rect x="462" y="60" width="2" height="2" fill="#000"/>
<rect x="464" y="52" width="2" height="3" fill="#000"/>
<rect x="467" y="45" width="2" height="2" fill="#000"/>
<rect x="469" y="41" width="2" height="2" fill="#000"/>
<rect x="465" y="48" width="1" height="2" fill="#000"/>
<rect x="309" y="181" width="3" height="2" fill="#000"/>
<polygon points="542.5,95.0 544.0,97.5 548.0,93.5 552.0,88.5 555.0,85.5 553.0,83.5 549.5,87.0 545.5,91.0" fill="#000"/>
<polygon points="560.5,70.0 562.5,73.5 567.0,69.5 571.5,65.0 570.5,62.0 566.0,64.5 563.0,67.0" fill="#000"/>
<polygon points="572.0,55.0 574.0,57.0 576.0,53.0 575.0,51.0" fill="#000"/>
<rect x="549" y="88" width="2" height="1.5" fill="#e8e8e8"/>
<rect x="551" y="86.5" width="1.5" height="1.5" fill="#e8e8e8"/>
<rect x="564.5" y="67" width="1.5" height="1.5" fill="#e8e8e8"/>
<rect x="279" y="411" width="1" height="3" fill="#e8e8e8"/>
</g>
<rect x="154" y="37" width="422" height="429" fill="none" stroke="#000" stroke-width="2" shape-rendering="crispEdges"/>
<path d="M168.5,38V43M168.5,465V460M195.5,38V43M195.5,465V460M222.5,38V43M222.5,465V460M250.5,38V43M250.5,465V460M277.5,38V43M277.5,465V460M304.5,38V43M304.5,465V460M331.5,38V43M331.5,465V460M358.5,38V43M358.5,465V460M386.5,38V43M386.5,465V460M413.5,38V43M413.5,465V460M440.5,38V43M440.5,465V460M467.5,38V43M467.5,465V460M494.5,38V43M494.5,465V460M521.5,38V43M521.5,465V460M548.5,38V43M548.5,465V460M575.5,38V43M575.5,465V460M155,465.5H160M575,465.5H570M155,438.5H160M575,438.5H570M155,411.5H160M575,411.5H570M155,383.5H160M575,383.5H570M155,356.5H160M575,356.5H570M155,329.5H160M575,329.5H570M155,301.5H160M575,301.5H570M155,273.5H160M575,273.5H570M155,245.5H160M575,245.5H570M155,216.5H160M575,216.5H570M155,188.5H160M575,188.5H570M155,159.5H160M575,159.5H570M155,129.5H160M575,129.5H570M155,99.5H160M575,99.5H570M155,69.5H160M575,69.5H570M155,38.5H160M575,38.5H570" stroke="#000" stroke-width="1" fill="none" shape-rendering="crispEdges"/>
<rect x="245" y="524" width="242" height="12" fill="url(#cb)" shape-rendering="crispEdges"/>
<rect x="245" y="524" width="2.5" height="12" fill="#000" shape-rendering="crispEdges"/>
</svg>
<div id="t">
<div style="position:absolute;top:8.17px;font-size:13.5px;line-height:13.5px;height:13.5px;color:#08085c;white-space:nowrap;left:365.3px;transform:translateX(-50%) scaleX(0.953);transform-origin:center;">Significant Wave Height with Wave Direction</div>
<div style="position:absolute;top:21.77px;font-size:11.5px;line-height:11.5px;height:11.5px;color:#08085c;white-space:nowrap;font-style:italic;left:366.2px;transform:translateX(-50%) scaleX(1.05);transform-origin:center;">Valid For Jun-26-2020 06:00 GMT</div>
<div style="position:absolute;top:32.69px;font-size:11px;line-height:11px;height:11px;color:#000;white-space:nowrap;font-style:italic;left:584.0px;">30 N</div>
<div style="position:absolute;top:109.49px;font-size:11px;line-height:11px;height:11px;color:#000;white-space:nowrap;font-style:italic;left:584.0px;">25 N</div>
<div style="position:absolute;top:182.69px;font-size:11px;line-height:11px;height:11px;color:#000;white-space:nowrap;font-style:italic;left:584.0px;">20 N</div>
<div style="position:absolute;top:253.69px;font-size:11px;line-height:11px;height:11px;color:#000;white-space:nowrap;font-style:italic;left:584.0px;">15 N</div>
<div style="position:absolute;top:323.69px;font-size:11px;line-height:11px;height:11px;color:#000;white-space:nowrap;font-style:italic;left:584.0px;">10 N</div>
<div style="position:absolute;top:391.19px;font-size:11px;line-height:11px;height:11px;color:#000;white-space:nowrap;font-style:italic;left:584.0px;">5 N</div>
<div style="position:absolute;top:460.19px;font-size:11px;line-height:11px;height:11px;color:#000;white-space:nowrap;font-style:italic;left:584.0px;">0</div>
<div style="position:absolute;top:486.99px;font-size:11px;line-height:11px;height:11px;color:#08085c;white-space:nowrap;left:154.8px;">oceanweather inc.</div>
<div style="position:absolute;top:486.33px;font-size:8px;line-height:8px;height:8px;color:#08085c;white-space:nowrap;font-style:italic;-webkit-text-stroke:0.25px #08085c;right:179.0px;transform:scaleX(0.928);transform-origin:right;">Plotted at Jun 26, 2020 02:14 GMT</div>
<div style="position:absolute;top:500.16px;font-size:9.5px;line-height:9.5px;height:9.5px;color:#08085c;white-space:nowrap;-webkit-text-stroke:0.25px #08085c;left:365.2px;transform:translateX(-50%);transform-origin:center;">Significant Wave Height (Meters)</div>
<div style="position:absolute;top:547.86px;font-size:9.5px;line-height:9.5px;height:9.5px;color:#08085c;white-space:nowrap;-webkit-text-stroke:0.25px #08085c;left:364.9px;transform:translateX(-50%);transform-origin:center;">Significant Wave Height (Feet)</div>
<div style="position:absolute;top:473.19px;font-size:11px;line-height:11px;height:11px;color:#000;white-space:nowrap;font-style:italic;left:171.5px;transform:translateX(-50%);transform-origin:center;">100 E</div>
<div style="position:absolute;top:473.19px;font-size:11px;line-height:11px;height:11px;color:#000;white-space:nowrap;font-style:italic;left:239.5px;transform:translateX(-50%);transform-origin:center;">105 E</div>
<div style="position:absolute;top:473.19px;font-size:11px;line-height:11px;height:11px;color:#000;white-space:nowrap;font-style:italic;left:307.5px;transform:translateX(-50%);transform-origin:center;">110 E</div>
<div style="position:absolute;top:473.19px;font-size:11px;line-height:11px;height:11px;color:#000;white-space:nowrap;font-style:italic;left:375.5px;transform:translateX(-50%);transform-origin:center;">115 E</div>
<div style="position:absolute;top:473.19px;font-size:11px;line-height:11px;height:11px;color:#000;white-space:nowrap;font-style:italic;left:443.5px;transform:translateX(-50%);transform-origin:center;">120 E</div>
<div style="position:absolute;top:473.19px;font-size:11px;line-height:11px;height:11px;color:#000;white-space:nowrap;font-style:italic;left:511.5px;transform:translateX(-50%);transform-origin:center;">125 E</div>
<div style="position:absolute;top:473.19px;font-size:11px;line-height:11px;height:11px;color:#000;white-space:nowrap;font-style:italic;left:579.5px;transform:translateX(-50%);transform-origin:center;">130 E</div>
<div style="position:absolute;top:513.40px;font-size:8.5px;line-height:8.5px;height:8.5px;color:#08085c;white-space:nowrap;-webkit-text-stroke:0.25px #08085c;left:246.2px;transform:translateX(-50%);transform-origin:center;">0</div>
<div style="position:absolute;top:513.40px;font-size:8.5px;line-height:8.5px;height:8.5px;color:#08085c;white-space:nowrap;-webkit-text-stroke:0.25px #08085c;left:266.1px;transform:translateX(-50%);transform-origin:center;">1</div>
<div style="position:absolute;top:513.40px;font-size:8.5px;line-height:8.5px;height:8.5px;color:#08085c;white-space:nowrap;-webkit-text-stroke:0.25px #08085c;left:286.1px;transform:translateX(-50%);transform-origin:center;">2</div>
<div style="position:absolute;top:513.40px;font-size:8.5px;line-height:8.5px;height:8.5px;color:#08085c;white-space:nowrap;-webkit-text-stroke:0.25px #08085c;left:306.0px;transform:translateX(-50%);transform-origin:center;">3</div>
<div style="position:absolute;top:513.40px;font-size:8.5px;line-height:8.5px;height:8.5px;color:#08085c;white-space:nowrap;-webkit-text-stroke:0.25px #08085c;left:326.0px;transform:translateX(-50%);transform-origin:center;">4</div>
<div style="position:absolute;top:513.40px;font-size:8.5px;line-height:8.5px;height:8.5px;color:#08085c;white-space:nowrap;-webkit-text-stroke:0.25px #08085c;left:345.9px;transform:translateX(-50%);transform-origin:center;">5</div>
<div style="position:absolute;top:513.40px;font-size:8.5px;line-height:8.5px;height:8.5px;color:#08085c;white-space:nowrap;-webkit-text-stroke:0.25px #08085c;left:365.9px;transform:translateX(-50%);transform-origin:center;">6</div>
<div style="position:absolute;top:513.40px;font-size:8.5px;line-height:8.5px;height:8.5px;color:#08085c;white-space:nowrap;-webkit-text-stroke:0.25px #08085c;left:385.9px;transform:translateX(-50%);transform-origin:center;">7</div>
<div style="position:absolute;top:513.40px;font-size:8.5px;line-height:8.5px;height:8.5px;color:#08085c;white-space:nowrap;-webkit-text-stroke:0.25px #08085c;left:405.8px;transform:translateX(-50%);transform-origin:center;">8</div>
<div style="position:absolute;top:513.40px;font-size:8.5px;line-height:8.5px;height:8.5px;color:#08085c;white-space:nowrap;-webkit-text-stroke:0.25px #08085c;left:425.8px;transform:translateX(-50%);transform-origin:center;">9</div>
<div style="position:absolute;top:513.40px;font-size:8.5px;line-height:8.5px;height:8.5px;color:#08085c;white-space:nowrap;-webkit-text-stroke:0.25px #08085c;left:445.7px;transform:translateX(-50%);transform-origin:center;">10</div>
<div style="position:absolute;top:513.40px;font-size:8.5px;line-height:8.5px;height:8.5px;color:#08085c;white-space:nowrap;-webkit-text-stroke:0.25px #08085c;left:465.6px;transform:translateX(-50%);transform-origin:center;">11</div>
<div style="position:absolute;top:513.40px;font-size:8.5px;line-height:8.5px;height:8.5px;color:#08085c;white-space:nowrap;-webkit-text-stroke:0.25px #08085c;left:485.6px;transform:translateX(-50%);transform-origin:center;">12</div>
<div style="position:absolute;top:537.20px;font-size:8.5px;line-height:8.5px;height:8.5px;color:#08085c;white-space:nowrap;-webkit-text-stroke:0.25px #08085c;left:246.2px;transform:translateX(-50%);transform-origin:center;">0</div>
<div style="position:absolute;top:537.20px;font-size:8.5px;line-height:8.5px;height:8.5px;color:#08085c;white-space:nowrap;-webkit-text-stroke:0.25px #08085c;left:276.3px;transform:translateX(-50%);transform-origin:center;">5</div>
<div style="position:absolute;top:537.20px;font-size:8.5px;line-height:8.5px;height:8.5px;color:#08085c;white-space:nowrap;-webkit-text-stroke:0.25px #08085c;left:306.4px;transform:translateX(-50%);transform-origin:center;">10</div>
<div style="position:absolute;top:537.20px;font-size:8.5px;line-height:8.5px;height:8.5px;color:#08085c;white-space:nowrap;-webkit-text-stroke:0.25px #08085c;left:336.5px;transform:translateX(-50%);transform-origin:center;">15</div>
<div style="position:absolute;top:537.20px;font-size:8.5px;line-height:8.5px;height:8.5px;color:#08085c;white-space:nowrap;-webkit-text-stroke:0.25px #08085c;left:366.6px;transform:translateX(-50%);transform-origin:center;">20</div>
<div style="position:absolute;top:537.20px;font-size:8.5px;line-height:8.5px;height:8.5px;color:#08085c;white-space:nowrap;-webkit-text-stroke:0.25px #08085c;left:396.7px;transform:translateX(-50%);transform-origin:center;">25</div>
<div style="position:absolute;top:537.20px;font-size:8.5px;line-height:8.5px;height:8.5px;color:#08085c;white-space:nowrap;-webkit-text-stroke:0.25px #08085c;left:426.8px;transform:translateX(-50%);transform-origin:center;">30</div>
<div style="position:absolute;top:537.20px;font-size:8.5px;line-height:8.5px;height:8.5px;color:#08085c;white-space:nowrap;-webkit-text-stroke:0.25px #08085c;left:456.9px;transform:translateX(-50%);transform-origin:center;">35</div>
<div style="position:absolute;top:537.20px;font-size:8.5px;line-height:8.5px;height:8.5px;color:#08085c;white-space:nowrap;-webkit-text-stroke:0.25px #08085c;left:485.0px;transform:translateX(-50%);transform-origin:center;">40</div>
</div>
</body></html>
